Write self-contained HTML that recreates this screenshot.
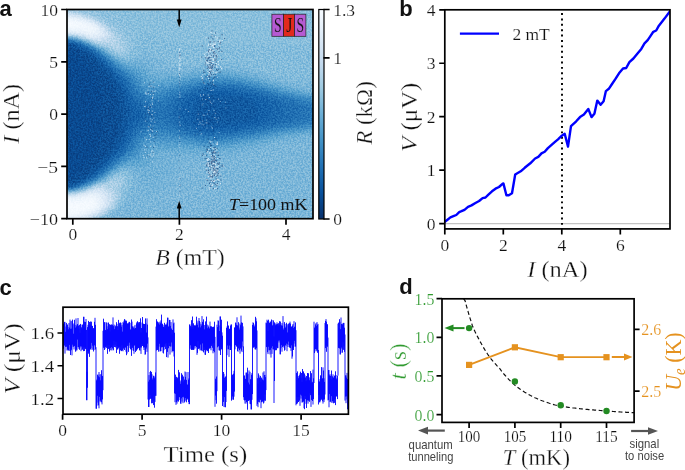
<!DOCTYPE html><html><head><meta charset="utf-8"><style>html,body{margin:0;padding:0;background:#fff;}svg{display:block;will-change:transform}</style></head><body><svg width="685" height="470" viewBox="0 0 685 470"><defs><clipPath id="ca"><rect x="67" y="9.5" width="246" height="209.2"/></clipPath><filter id="bl" x="0" y="0" width="1" height="1" color-interpolation-filters="sRGB"><feGaussianBlur stdDeviation="1.6"/></filter><filter id="nb" x="0" y="0" width="1" height="1" color-interpolation-filters="sRGB"><feGaussianBlur in="SourceGraphic" stdDeviation="1.6" result="b"/><feTurbulence type="fractalNoise" baseFrequency="0.6" numOctaves="2" seed="3" result="t"/><feColorMatrix in="t" type="matrix" values="0 0 0 0 0  0 0 0 0 0  0 0 0 0 0  2.6 0 0 0 -0.8" result="m"/><feComposite in="b" in2="m" operator="in"/></filter><linearGradient id="cb" x1="0" y1="1" x2="0" y2="0"><stop offset="0" stop-color="#08306b"/><stop offset="0.125" stop-color="#08519c"/><stop offset="0.25" stop-color="#2171b5"/><stop offset="0.375" stop-color="#4292c6"/><stop offset="0.5" stop-color="#6baed6"/><stop offset="0.625" stop-color="#9ecae1"/><stop offset="0.75" stop-color="#c6dbef"/><stop offset="0.875" stop-color="#deebf7"/><stop offset="1" stop-color="#f7fbff"/></linearGradient></defs><g clip-path="url(#ca)"><g filter="url(#bl)"><path fill="#083d7f" d="M66 44.5h9v3.4h-9zM66 47.5h15v3.4h-15zM66 50.5h18v3.4h-18zM66 53.5h21v3.4h-21zM66 56.5h27v3.4h-27zM66 59.5h30v3.4h-30zM66 62.5h30v3.4h-30zM66 65.5h33v3.4h-33zM66 68.5h36v3.4h-36zM66 71.5h39v3.4h-39zM66 74.5h42v3.4h-42zM66 77.5h42v3.4h-42zM66 80.5h45v3.4h-45zM66 83.5h48v3.4h-48zM66 86.5h48v3.4h-48zM66 89.5h48v3.4h-48zM66 92.5h51v3.4h-51zM66 95.5h51v3.4h-51zM66 98.5h51v3.4h-51zM66 101.5h51v3.4h-51zM66 104.5h51v3.4h-51zM66 107.5h51v3.4h-51zM66 110.5h51v3.4h-51zM66 113.5h51v3.4h-51zM66 116.5h51v3.4h-51zM66 119.5h51v3.4h-51zM66 122.5h51v3.4h-51zM66 125.5h51v3.4h-51zM66 128.5h51v3.4h-51zM66 131.5h51v3.4h-51zM66 134.5h51v3.4h-51zM66 137.5h48v3.4h-48zM66 140.5h48v3.4h-48zM66 143.5h45v3.4h-45zM66 146.5h45v3.4h-45zM66 149.5h42v3.4h-42zM66 152.5h39v3.4h-39zM66 155.5h36v3.4h-36zM66 158.5h36v3.4h-36zM66 161.5h33v3.4h-33zM66 164.5h30v3.4h-30zM66 167.5h27v3.4h-27zM66 170.5h24v3.4h-24zM66 173.5h21v3.4h-21zM66 176.5h15v3.4h-15zM66 179.5h9v3.4h-9zM66 182.5h3v3.4h-3z"/><path fill="#084488" d="M66 41.5h6v3.4h-6zM75 44.5h3v3.4h-3zM81 47.5h3v3.4h-3zM84 50.5h6v3.4h-6zM87 53.5h6v3.4h-6zM93 56.5h3v3.4h-3zM96 59.5h3v3.4h-3zM96 62.5h6v3.4h-6zM99 65.5h6v3.4h-6zM102 68.5h6v3.4h-6zM105 71.5h6v3.4h-6zM108 74.5h3v3.4h-3zM108 77.5h6v3.4h-6zM111 80.5h6v3.4h-6zM114 83.5h3v3.4h-3zM114 86.5h6v3.4h-6zM114 89.5h6v3.4h-6zM117 92.5h6v3.4h-6zM117 95.5h6v3.4h-6zM117 98.5h6v3.4h-6zM117 101.5h6v3.4h-6zM117 104.5h6v3.4h-6zM117 107.5h9v3.4h-9zM117 110.5h9v3.4h-9zM117 113.5h9v3.4h-9zM117 116.5h9v3.4h-9zM117 119.5h9v3.4h-9zM117 122.5h6v3.4h-6zM117 125.5h6v3.4h-6zM117 128.5h6v3.4h-6zM117 131.5h6v3.4h-6zM117 134.5h6v3.4h-6zM114 137.5h6v3.4h-6zM114 140.5h6v3.4h-6zM111 143.5h6v3.4h-6zM111 146.5h6v3.4h-6zM108 149.5h6v3.4h-6zM105 152.5h6v3.4h-6zM102 155.5h6v3.4h-6zM102 158.5h3v3.4h-3zM99 161.5h3v3.4h-3zM96 164.5h3v3.4h-3zM93 167.5h3v3.4h-3zM90 170.5h3v3.4h-3zM87 173.5h3v3.4h-3zM81 176.5h6v3.4h-6zM75 179.5h6v3.4h-6zM69 182.5h6v3.4h-6z"/><path fill="#084a92" d="M72 41.5h3v3.4h-3zM78 44.5h3v3.4h-3zM84 47.5h3v3.4h-3zM90 50.5h3v3.4h-3zM93 53.5h3v3.4h-3zM96 56.5h3v3.4h-3zM99 59.5h3v3.4h-3zM102 62.5h3v3.4h-3zM105 65.5h3v3.4h-3zM108 68.5h3v3.4h-3zM111 71.5h3v3.4h-3zM111 74.5h6v3.4h-6zM114 77.5h3v3.4h-3zM117 80.5h3v3.4h-3zM117 83.5h6v3.4h-6zM120 86.5h3v3.4h-3zM120 89.5h6v3.4h-6zM123 92.5h3v3.4h-3zM123 95.5h3v3.4h-3zM204 95.5h39v3.4h-39zM123 98.5h3v3.4h-3zM198 98.5h54v3.4h-54zM123 101.5h6v3.4h-6zM198 101.5h57v3.4h-57zM123 104.5h6v3.4h-6zM195 104.5h60v3.4h-60zM126 107.5h6v3.4h-6zM195 107.5h63v3.4h-63zM126 110.5h6v3.4h-6zM195 110.5h63v3.4h-63zM126 113.5h6v3.4h-6zM195 113.5h63v3.4h-63zM126 116.5h6v3.4h-6zM195 116.5h60v3.4h-60zM126 119.5h3v3.4h-3zM198 119.5h51v3.4h-51zM123 122.5h6v3.4h-6zM201 122.5h36v3.4h-36zM123 125.5h6v3.4h-6zM123 128.5h3v3.4h-3zM123 131.5h3v3.4h-3zM123 134.5h3v3.4h-3zM120 137.5h3v3.4h-3zM120 140.5h3v3.4h-3zM117 143.5h3v3.4h-3zM117 146.5h3v3.4h-3zM114 149.5h3v3.4h-3zM111 152.5h3v3.4h-3zM108 155.5h3v3.4h-3zM105 158.5h3v3.4h-3zM102 161.5h3v3.4h-3zM99 164.5h3v3.4h-3zM96 167.5h3v3.4h-3zM93 170.5h3v3.4h-3zM90 173.5h3v3.4h-3zM87 176.5h3v3.4h-3zM81 179.5h3v3.4h-3zM75 182.5h3v3.4h-3z"/><path fill="#08519c" d="M75 41.5h3v3.4h-3zM81 44.5h3v3.4h-3zM87 47.5h3v3.4h-3zM99 56.5h3v3.4h-3zM102 59.5h3v3.4h-3zM105 62.5h3v3.4h-3zM108 65.5h3v3.4h-3zM111 68.5h3v3.4h-3zM114 71.5h3v3.4h-3zM117 74.5h3v3.4h-3zM117 77.5h3v3.4h-3zM120 80.5h3v3.4h-3zM123 83.5h3v3.4h-3zM123 86.5h3v3.4h-3zM126 89.5h3v3.4h-3zM207 89.5h24v3.4h-24zM126 92.5h3v3.4h-3zM198 92.5h51v3.4h-51zM126 95.5h3v3.4h-3zM192 95.5h12v3.4h-12zM243 95.5h15v3.4h-15zM126 98.5h6v3.4h-6zM186 98.5h12v3.4h-12zM252 98.5h12v3.4h-12zM129 101.5h3v3.4h-3zM183 101.5h15v3.4h-15zM255 101.5h12v3.4h-12zM129 104.5h6v3.4h-6zM183 104.5h12v3.4h-12zM255 104.5h15v3.4h-15zM132 107.5h6v3.4h-6zM183 107.5h12v3.4h-12zM258 107.5h12v3.4h-12zM132 110.5h9v3.4h-9zM183 110.5h12v3.4h-12zM258 110.5h12v3.4h-12zM132 113.5h9v3.4h-9zM183 113.5h12v3.4h-12zM258 113.5h12v3.4h-12zM132 116.5h6v3.4h-6zM183 116.5h12v3.4h-12zM255 116.5h15v3.4h-15zM129 119.5h9v3.4h-9zM183 119.5h15v3.4h-15zM249 119.5h15v3.4h-15zM129 122.5h6v3.4h-6zM189 122.5h12v3.4h-12zM237 122.5h21v3.4h-21zM129 125.5h3v3.4h-3zM195 125.5h48v3.4h-48zM126 128.5h3v3.4h-3zM204 128.5h12v3.4h-12zM126 131.5h3v3.4h-3zM126 134.5h3v3.4h-3zM123 137.5h3v3.4h-3zM123 140.5h3v3.4h-3zM120 143.5h3v3.4h-3zM120 146.5h3v3.4h-3zM117 149.5h3v3.4h-3zM114 152.5h3v3.4h-3zM111 155.5h3v3.4h-3zM108 158.5h3v3.4h-3zM105 161.5h3v3.4h-3zM102 164.5h3v3.4h-3zM99 167.5h3v3.4h-3zM96 170.5h3v3.4h-3zM93 173.5h3v3.4h-3zM84 179.5h3v3.4h-3zM78 182.5h3v3.4h-3zM66 185.5h6v3.4h-6z"/><path fill="#0d57a1" d="M84 44.5h3v3.4h-3zM93 50.5h3v3.4h-3zM96 53.5h3v3.4h-3zM120 77.5h3v3.4h-3zM123 80.5h3v3.4h-3zM126 86.5h3v3.4h-3zM198 89.5h9v3.4h-9zM231 89.5h15v3.4h-15zM129 92.5h3v3.4h-3zM189 92.5h9v3.4h-9zM249 92.5h9v3.4h-9zM129 95.5h3v3.4h-3zM183 95.5h9v3.4h-9zM258 95.5h9v3.4h-9zM132 98.5h3v3.4h-3zM180 98.5h6v3.4h-6zM264 98.5h12v3.4h-12zM132 101.5h6v3.4h-6zM177 101.5h6v3.4h-6zM267 101.5h12v3.4h-12zM135 104.5h6v3.4h-6zM177 104.5h6v3.4h-6zM270 104.5h12v3.4h-12zM138 107.5h6v3.4h-6zM174 107.5h9v3.4h-9zM270 107.5h12v3.4h-12zM141 110.5h6v3.4h-6zM174 110.5h9v3.4h-9zM270 110.5h12v3.4h-12zM141 113.5h6v3.4h-6zM174 113.5h9v3.4h-9zM270 113.5h12v3.4h-12zM138 116.5h6v3.4h-6zM177 116.5h6v3.4h-6zM270 116.5h12v3.4h-12zM138 119.5h6v3.4h-6zM177 119.5h6v3.4h-6zM264 119.5h12v3.4h-12zM135 122.5h6v3.4h-6zM180 122.5h9v3.4h-9zM258 122.5h12v3.4h-12zM132 125.5h6v3.4h-6zM183 125.5h12v3.4h-12zM243 125.5h15v3.4h-15zM129 128.5h6v3.4h-6zM192 128.5h12v3.4h-12zM216 128.5h24v3.4h-24zM129 131.5h3v3.4h-3zM207 131.5h3v3.4h-3zM129 134.5h3v3.4h-3zM126 137.5h3v3.4h-3zM126 140.5h3v3.4h-3zM123 143.5h3v3.4h-3zM123 146.5h3v3.4h-3zM120 149.5h3v3.4h-3zM117 152.5h3v3.4h-3zM114 155.5h3v3.4h-3zM111 158.5h3v3.4h-3zM108 161.5h3v3.4h-3zM105 164.5h3v3.4h-3zM102 167.5h3v3.4h-3zM99 170.5h3v3.4h-3zM90 176.5h3v3.4h-3zM72 185.5h3v3.4h-3z"/><path fill="#125ea6" d="M66 38.5h3v3.4h-3zM78 41.5h3v3.4h-3zM90 47.5h3v3.4h-3zM99 53.5h3v3.4h-3zM102 56.5h3v3.4h-3zM105 59.5h3v3.4h-3zM108 62.5h3v3.4h-3zM111 65.5h3v3.4h-3zM114 68.5h3v3.4h-3zM117 71.5h3v3.4h-3zM120 74.5h3v3.4h-3zM123 77.5h3v3.4h-3zM126 80.5h3v3.4h-3zM126 83.5h3v3.4h-3zM129 86.5h3v3.4h-3zM198 86.5h45v3.4h-45zM129 89.5h3v3.4h-3zM189 89.5h9v3.4h-9zM246 89.5h9v3.4h-9zM183 92.5h6v3.4h-6zM258 92.5h9v3.4h-9zM132 95.5h3v3.4h-3zM177 95.5h6v3.4h-6zM267 95.5h9v3.4h-9zM135 98.5h6v3.4h-6zM174 98.5h6v3.4h-6zM276 98.5h9v3.4h-9zM138 101.5h6v3.4h-6zM171 101.5h6v3.4h-6zM279 101.5h12v3.4h-12zM141 104.5h9v3.4h-9zM168 104.5h9v3.4h-9zM282 104.5h15v3.4h-15zM144 107.5h9v3.4h-9zM168 107.5h6v3.4h-6zM282 107.5h15v3.4h-15zM147 110.5h9v3.4h-9zM168 110.5h6v3.4h-6zM282 110.5h15v3.4h-15zM147 113.5h9v3.4h-9zM168 113.5h6v3.4h-6zM282 113.5h15v3.4h-15zM144 116.5h9v3.4h-9zM168 116.5h9v3.4h-9zM282 116.5h15v3.4h-15zM144 119.5h6v3.4h-6zM171 119.5h6v3.4h-6zM276 119.5h15v3.4h-15zM141 122.5h6v3.4h-6zM174 122.5h6v3.4h-6zM270 122.5h9v3.4h-9zM138 125.5h3v3.4h-3zM177 125.5h6v3.4h-6zM258 125.5h9v3.4h-9zM135 128.5h3v3.4h-3zM183 128.5h9v3.4h-9zM240 128.5h12v3.4h-12zM132 131.5h3v3.4h-3zM195 131.5h12v3.4h-12zM210 131.5h24v3.4h-24zM129 137.5h3v3.4h-3zM129 140.5h3v3.4h-3zM126 143.5h3v3.4h-3zM123 149.5h3v3.4h-3zM120 152.5h3v3.4h-3zM117 155.5h3v3.4h-3zM96 173.5h3v3.4h-3zM87 179.5h3v3.4h-3zM81 182.5h3v3.4h-3z"/><path fill="#1764ab" d="M69 38.5h3v3.4h-3zM96 50.5h3v3.4h-3zM117 68.5h3v3.4h-3zM120 71.5h3v3.4h-3zM123 74.5h3v3.4h-3zM126 77.5h3v3.4h-3zM129 83.5h3v3.4h-3zM204 83.5h30v3.4h-30zM192 86.5h6v3.4h-6zM243 86.5h6v3.4h-6zM132 89.5h3v3.4h-3zM183 89.5h6v3.4h-6zM255 89.5h6v3.4h-6zM132 92.5h6v3.4h-6zM177 92.5h6v3.4h-6zM267 92.5h6v3.4h-6zM135 95.5h6v3.4h-6zM171 95.5h6v3.4h-6zM276 95.5h6v3.4h-6zM141 98.5h6v3.4h-6zM168 98.5h6v3.4h-6zM285 98.5h9v3.4h-9zM144 101.5h27v3.4h-27zM291 101.5h12v3.4h-12zM150 104.5h18v3.4h-18zM297 104.5h12v3.4h-12zM153 107.5h15v3.4h-15zM297 107.5h15v3.4h-15zM156 110.5h12v3.4h-12zM297 110.5h15v3.4h-15zM156 113.5h12v3.4h-12zM297 113.5h15v3.4h-15zM153 116.5h15v3.4h-15zM297 116.5h15v3.4h-15zM150 119.5h21v3.4h-21zM291 119.5h15v3.4h-15zM147 122.5h12v3.4h-12zM165 122.5h9v3.4h-9zM279 122.5h12v3.4h-12zM141 125.5h6v3.4h-6zM171 125.5h6v3.4h-6zM267 125.5h9v3.4h-9zM138 128.5h6v3.4h-6zM177 128.5h6v3.4h-6zM252 128.5h9v3.4h-9zM135 131.5h3v3.4h-3zM186 131.5h9v3.4h-9zM234 131.5h9v3.4h-9zM132 134.5h3v3.4h-3zM201 134.5h21v3.4h-21zM132 137.5h3v3.4h-3zM129 143.5h3v3.4h-3zM126 146.5h3v3.4h-3zM114 158.5h3v3.4h-3zM111 161.5h3v3.4h-3zM108 164.5h3v3.4h-3zM105 167.5h3v3.4h-3zM93 176.5h3v3.4h-3zM75 185.5h3v3.4h-3z"/><path fill="#1c6bb0" d="M72 38.5h3v3.4h-3zM81 41.5h3v3.4h-3zM87 44.5h3v3.4h-3zM93 47.5h3v3.4h-3zM105 56.5h3v3.4h-3zM108 59.5h3v3.4h-3zM111 62.5h3v3.4h-3zM114 65.5h3v3.4h-3zM126 74.5h3v3.4h-3zM129 80.5h3v3.4h-3zM132 83.5h3v3.4h-3zM198 83.5h6v3.4h-6zM234 83.5h9v3.4h-9zM132 86.5h3v3.4h-3zM186 86.5h6v3.4h-6zM249 86.5h6v3.4h-6zM135 89.5h3v3.4h-3zM177 89.5h6v3.4h-6zM261 89.5h6v3.4h-6zM138 92.5h3v3.4h-3zM171 92.5h6v3.4h-6zM273 92.5h3v3.4h-3zM141 95.5h6v3.4h-6zM165 95.5h6v3.4h-6zM282 95.5h6v3.4h-6zM147 98.5h21v3.4h-21zM294 98.5h6v3.4h-6zM303 101.5h9v3.4h-9zM309 104.5h6v3.4h-6zM312 107.5h3v3.4h-3zM312 110.5h3v3.4h-3zM312 113.5h3v3.4h-3zM312 116.5h3v3.4h-3zM306 119.5h9v3.4h-9zM159 122.5h6v3.4h-6zM291 122.5h12v3.4h-12zM147 125.5h24v3.4h-24zM276 125.5h6v3.4h-6zM144 128.5h6v3.4h-6zM168 128.5h9v3.4h-9zM261 128.5h9v3.4h-9zM138 131.5h6v3.4h-6zM177 131.5h9v3.4h-9zM243 131.5h12v3.4h-12zM135 134.5h3v3.4h-3zM192 134.5h9v3.4h-9zM222 134.5h12v3.4h-12zM132 140.5h3v3.4h-3zM132 143.5h3v3.4h-3zM129 146.5h3v3.4h-3zM126 149.5h3v3.4h-3zM123 152.5h3v3.4h-3zM120 155.5h3v3.4h-3zM117 158.5h3v3.4h-3zM102 170.5h3v3.4h-3zM99 173.5h3v3.4h-3zM90 179.5h3v3.4h-3zM84 182.5h3v3.4h-3z"/><path fill="#2171b5" d="M102 53.5h3v3.4h-3zM117 65.5h3v3.4h-3zM120 68.5h3v3.4h-3zM123 71.5h3v3.4h-3zM129 77.5h3v3.4h-3zM132 80.5h3v3.4h-3zM204 80.5h27v3.4h-27zM192 83.5h6v3.4h-6zM243 83.5h6v3.4h-6zM135 86.5h3v3.4h-3zM180 86.5h6v3.4h-6zM255 86.5h6v3.4h-6zM138 89.5h3v3.4h-3zM171 89.5h6v3.4h-6zM267 89.5h6v3.4h-6zM141 92.5h6v3.4h-6zM165 92.5h6v3.4h-6zM276 92.5h6v3.4h-6zM147 95.5h18v3.4h-18zM288 95.5h6v3.4h-6zM300 98.5h9v3.4h-9zM312 101.5h3v3.4h-3zM303 122.5h12v3.4h-12zM282 125.5h12v3.4h-12zM150 128.5h18v3.4h-18zM270 128.5h6v3.4h-6zM144 131.5h6v3.4h-6zM171 131.5h6v3.4h-6zM255 131.5h6v3.4h-6zM138 134.5h6v3.4h-6zM183 134.5h9v3.4h-9zM234 134.5h9v3.4h-9zM135 137.5h3v3.4h-3zM198 137.5h24v3.4h-24zM135 140.5h3v3.4h-3zM132 146.5h3v3.4h-3zM129 149.5h3v3.4h-3zM126 152.5h3v3.4h-3zM123 155.5h3v3.4h-3zM114 161.5h3v3.4h-3zM111 164.5h3v3.4h-3zM96 176.5h3v3.4h-3zM78 185.5h3v3.4h-3z"/><path fill="#2878b8" d="M75 38.5h3v3.4h-3zM99 50.5h3v3.4h-3zM111 59.5h3v3.4h-3zM114 62.5h3v3.4h-3zM126 71.5h3v3.4h-3zM129 74.5h3v3.4h-3zM132 77.5h3v3.4h-3zM135 80.5h3v3.4h-3zM198 80.5h6v3.4h-6zM231 80.5h9v3.4h-9zM135 83.5h3v3.4h-3zM186 83.5h6v3.4h-6zM249 83.5h6v3.4h-6zM138 86.5h3v3.4h-3zM174 86.5h6v3.4h-6zM261 86.5h3v3.4h-3zM141 89.5h3v3.4h-3zM165 89.5h6v3.4h-6zM273 89.5h3v3.4h-3zM147 92.5h18v3.4h-18zM282 92.5h6v3.4h-6zM294 95.5h6v3.4h-6zM309 98.5h6v3.4h-6zM294 125.5h9v3.4h-9zM276 128.5h6v3.4h-6zM150 131.5h21v3.4h-21zM261 131.5h6v3.4h-6zM144 134.5h3v3.4h-3zM171 134.5h12v3.4h-12zM243 134.5h9v3.4h-9zM138 137.5h6v3.4h-6zM189 137.5h9v3.4h-9zM222 137.5h12v3.4h-12zM138 140.5h3v3.4h-3zM135 143.5h3v3.4h-3zM132 149.5h3v3.4h-3zM129 152.5h3v3.4h-3zM120 158.5h3v3.4h-3zM108 167.5h3v3.4h-3zM105 170.5h3v3.4h-3z"/><path fill="#2e7ebc" d="M84 41.5h3v3.4h-3zM90 44.5h3v3.4h-3zM96 47.5h3v3.4h-3zM108 56.5h3v3.4h-3zM120 65.5h3v3.4h-3zM123 68.5h3v3.4h-3zM129 71.5h3v3.4h-3zM132 74.5h3v3.4h-3zM135 77.5h3v3.4h-3zM204 77.5h24v3.4h-24zM189 80.5h9v3.4h-9zM240 80.5h6v3.4h-6zM138 83.5h3v3.4h-3zM180 83.5h6v3.4h-6zM255 83.5h3v3.4h-3zM141 86.5h3v3.4h-3zM168 86.5h6v3.4h-6zM264 86.5h6v3.4h-6zM144 89.5h21v3.4h-21zM276 89.5h3v3.4h-3zM288 92.5h6v3.4h-6zM300 95.5h6v3.4h-6zM303 125.5h9v3.4h-9zM282 128.5h6v3.4h-6zM267 131.5h6v3.4h-6zM147 134.5h24v3.4h-24zM252 134.5h6v3.4h-6zM144 137.5h3v3.4h-3zM177 137.5h12v3.4h-12zM234 137.5h6v3.4h-6zM198 140.5h24v3.4h-24zM138 143.5h3v3.4h-3zM135 146.5h3v3.4h-3zM135 149.5h3v3.4h-3zM132 152.5h3v3.4h-3zM126 155.5h3v3.4h-3zM123 158.5h3v3.4h-3zM117 161.5h3v3.4h-3zM114 164.5h3v3.4h-3zM102 173.5h3v3.4h-3zM93 179.5h3v3.4h-3zM87 182.5h3v3.4h-3zM66 188.5h3v3.4h-3z"/><path fill="#3585bf" d="M102 50.5h3v3.4h-3zM105 53.5h3v3.4h-3zM117 62.5h3v3.4h-3zM126 68.5h3v3.4h-3zM132 71.5h3v3.4h-3zM135 74.5h3v3.4h-3zM138 77.5h3v3.4h-3zM198 77.5h6v3.4h-6zM228 77.5h9v3.4h-9zM138 80.5h3v3.4h-3zM183 80.5h6v3.4h-6zM246 80.5h6v3.4h-6zM141 83.5h3v3.4h-3zM171 83.5h9v3.4h-9zM258 83.5h6v3.4h-6zM144 86.5h24v3.4h-24zM270 86.5h3v3.4h-3zM279 89.5h6v3.4h-6zM294 92.5h3v3.4h-3zM306 95.5h6v3.4h-6zM312 125.5h3v3.4h-3zM288 128.5h9v3.4h-9zM273 131.5h6v3.4h-6zM258 134.5h6v3.4h-6zM147 137.5h30v3.4h-30zM240 137.5h9v3.4h-9zM141 140.5h6v3.4h-6zM186 140.5h12v3.4h-12zM222 140.5h12v3.4h-12zM141 143.5h3v3.4h-3zM138 146.5h3v3.4h-3zM138 149.5h3v3.4h-3zM135 152.5h3v3.4h-3zM129 155.5h3v3.4h-3zM120 161.5h3v3.4h-3zM111 167.5h3v3.4h-3zM99 176.5h3v3.4h-3zM81 185.5h3v3.4h-3zM69 188.5h3v3.4h-3z"/><path fill="#3b8bc3" d="M78 38.5h3v3.4h-3zM111 56.5h3v3.4h-3zM114 59.5h3v3.4h-3zM123 65.5h3v3.4h-3zM129 68.5h3v3.4h-3zM135 71.5h3v3.4h-3zM138 74.5h3v3.4h-3zM204 74.5h15v3.4h-15zM189 77.5h9v3.4h-9zM237 77.5h6v3.4h-6zM141 80.5h3v3.4h-3zM177 80.5h6v3.4h-6zM252 80.5h6v3.4h-6zM144 83.5h9v3.4h-9zM159 83.5h12v3.4h-12zM264 83.5h3v3.4h-3zM273 86.5h6v3.4h-6zM285 89.5h3v3.4h-3zM297 92.5h6v3.4h-6zM312 95.5h3v3.4h-3zM297 128.5h9v3.4h-9zM279 131.5h6v3.4h-6zM264 134.5h6v3.4h-6zM249 137.5h9v3.4h-9zM147 140.5h39v3.4h-39zM234 140.5h6v3.4h-6zM144 143.5h3v3.4h-3zM198 143.5h24v3.4h-24zM141 146.5h3v3.4h-3zM141 149.5h3v3.4h-3zM138 152.5h3v3.4h-3zM132 155.5h6v3.4h-6zM126 158.5h6v3.4h-6zM117 164.5h3v3.4h-3zM108 170.5h3v3.4h-3zM105 173.5h3v3.4h-3zM72 188.5h3v3.4h-3z"/><path fill="#4292c6" d="M87 41.5h3v3.4h-3zM93 44.5h3v3.4h-3zM99 47.5h3v3.4h-3zM108 53.5h3v3.4h-3zM120 62.5h3v3.4h-3zM126 65.5h3v3.4h-3zM132 68.5h6v3.4h-6zM138 71.5h3v3.4h-3zM141 74.5h3v3.4h-3zM198 74.5h6v3.4h-6zM219 74.5h18v3.4h-18zM141 77.5h6v3.4h-6zM180 77.5h9v3.4h-9zM243 77.5h6v3.4h-6zM144 80.5h6v3.4h-6zM165 80.5h12v3.4h-12zM258 80.5h3v3.4h-3zM153 83.5h6v3.4h-6zM267 83.5h3v3.4h-3zM279 86.5h3v3.4h-3zM288 89.5h6v3.4h-6zM303 92.5h3v3.4h-3zM306 128.5h6v3.4h-6zM285 131.5h9v3.4h-9zM270 134.5h6v3.4h-6zM258 137.5h6v3.4h-6zM240 140.5h9v3.4h-9zM147 143.5h15v3.4h-15zM168 143.5h30v3.4h-30zM222 143.5h12v3.4h-12zM144 146.5h6v3.4h-6zM207 146.5h3v3.4h-3zM144 149.5h3v3.4h-3zM141 152.5h6v3.4h-6zM138 155.5h6v3.4h-6zM132 158.5h6v3.4h-6zM123 161.5h6v3.4h-6zM114 167.5h3v3.4h-3zM102 176.5h3v3.4h-3zM96 179.5h3v3.4h-3zM90 182.5h3v3.4h-3z"/><path fill="#4a98c9" d="M105 50.5h3v3.4h-3zM117 59.5h3v3.4h-3zM123 62.5h3v3.4h-3zM129 65.5h6v3.4h-6zM138 68.5h6v3.4h-6zM141 71.5h6v3.4h-6zM204 71.5h18v3.4h-18zM144 74.5h3v3.4h-3zM189 74.5h9v3.4h-9zM237 74.5h6v3.4h-6zM147 77.5h6v3.4h-6zM168 77.5h12v3.4h-12zM249 77.5h6v3.4h-6zM150 80.5h15v3.4h-15zM261 80.5h6v3.4h-6zM270 83.5h6v3.4h-6zM282 86.5h6v3.4h-6zM294 89.5h6v3.4h-6zM306 92.5h6v3.4h-6zM312 128.5h3v3.4h-3zM294 131.5h9v3.4h-9zM276 134.5h6v3.4h-6zM264 137.5h6v3.4h-6zM249 140.5h9v3.4h-9zM162 143.5h6v3.4h-6zM234 143.5h9v3.4h-9zM150 146.5h24v3.4h-24zM189 146.5h18v3.4h-18zM210 146.5h18v3.4h-18zM147 149.5h6v3.4h-6zM147 152.5h3v3.4h-3zM144 155.5h6v3.4h-6zM138 158.5h9v3.4h-9zM129 161.5h12v3.4h-12zM120 164.5h3v3.4h-3zM111 170.5h3v3.4h-3zM84 185.5h3v3.4h-3zM75 188.5h3v3.4h-3z"/><path fill="#529dcc" d="M66 35.5h6v3.4h-6zM81 38.5h3v3.4h-3zM114 56.5h3v3.4h-3zM120 59.5h3v3.4h-3zM126 62.5h9v3.4h-9zM135 65.5h9v3.4h-9zM144 68.5h3v3.4h-3zM147 71.5h3v3.4h-3zM192 71.5h12v3.4h-12zM222 71.5h15v3.4h-15zM147 74.5h9v3.4h-9zM168 74.5h21v3.4h-21zM243 74.5h9v3.4h-9zM153 77.5h15v3.4h-15zM255 77.5h6v3.4h-6zM267 80.5h3v3.4h-3zM276 83.5h6v3.4h-6zM288 86.5h6v3.4h-6zM300 89.5h6v3.4h-6zM312 92.5h3v3.4h-3zM303 131.5h9v3.4h-9zM282 134.5h12v3.4h-12zM270 137.5h9v3.4h-9zM258 140.5h9v3.4h-9zM243 143.5h12v3.4h-12zM174 146.5h15v3.4h-15zM228 146.5h12v3.4h-12zM153 149.5h30v3.4h-30zM189 149.5h36v3.4h-36zM150 152.5h9v3.4h-9zM150 155.5h6v3.4h-6zM147 158.5h6v3.4h-6zM141 161.5h12v3.4h-12zM123 164.5h24v3.4h-24zM117 167.5h3v3.4h-3zM108 173.5h3v3.4h-3z"/><path fill="#5ba3d0" d="M96 44.5h3v3.4h-3zM102 47.5h3v3.4h-3zM111 53.5h3v3.4h-3zM117 56.5h3v3.4h-3zM123 59.5h3v3.4h-3zM138 59.5h6v3.4h-6zM135 62.5h15v3.4h-15zM144 65.5h9v3.4h-9zM147 68.5h9v3.4h-9zM198 68.5h36v3.4h-36zM150 71.5h42v3.4h-42zM237 71.5h12v3.4h-12zM156 74.5h12v3.4h-12zM252 74.5h6v3.4h-6zM261 77.5h6v3.4h-6zM270 80.5h9v3.4h-9zM282 83.5h6v3.4h-6zM294 86.5h6v3.4h-6zM306 89.5h6v3.4h-6zM312 131.5h3v3.4h-3zM294 134.5h18v3.4h-18zM279 137.5h18v3.4h-18zM267 140.5h15v3.4h-15zM255 143.5h15v3.4h-15zM240 146.5h21v3.4h-21zM183 149.5h6v3.4h-6zM225 149.5h21v3.4h-21zM159 152.5h75v3.4h-75zM156 155.5h30v3.4h-30zM198 155.5h21v3.4h-21zM153 158.5h18v3.4h-18zM153 161.5h18v3.4h-18zM147 164.5h21v3.4h-21zM120 167.5h3v3.4h-3zM132 167.5h36v3.4h-36zM114 170.5h3v3.4h-3zM135 170.5h30v3.4h-30zM138 173.5h24v3.4h-24zM105 176.5h3v3.4h-3zM141 176.5h18v3.4h-18zM99 179.5h3v3.4h-3zM144 179.5h9v3.4h-9zM93 182.5h3v3.4h-3z"/><path fill="#63a8d3" d="M72 35.5h3v3.4h-3zM90 41.5h3v3.4h-3zM108 50.5h3v3.4h-3zM141 53.5h9v3.4h-9zM135 56.5h21v3.4h-21zM126 59.5h12v3.4h-12zM144 59.5h18v3.4h-18zM150 62.5h15v3.4h-15zM153 65.5h87v3.4h-87zM156 68.5h42v3.4h-42zM234 68.5h18v3.4h-18zM249 71.5h12v3.4h-12zM258 74.5h12v3.4h-12zM267 77.5h15v3.4h-15zM279 80.5h15v3.4h-15zM288 83.5h27v3.4h-27zM300 86.5h15v3.4h-15zM312 89.5h3v3.4h-3zM312 134.5h3v3.4h-3zM297 137.5h18v3.4h-18zM282 140.5h33v3.4h-33zM270 143.5h45v3.4h-45zM261 146.5h54v3.4h-54zM246 149.5h69v3.4h-69zM234 152.5h81v3.4h-81zM186 155.5h12v3.4h-12zM219 155.5h96v3.4h-96zM171 158.5h144v3.4h-144zM171 161.5h144v3.4h-144zM168 164.5h147v3.4h-147zM123 167.5h9v3.4h-9zM168 167.5h147v3.4h-147zM117 170.5h3v3.4h-3zM129 170.5h6v3.4h-6zM165 170.5h150v3.4h-150zM111 173.5h3v3.4h-3zM132 173.5h6v3.4h-6zM162 173.5h153v3.4h-153zM132 176.5h9v3.4h-9zM159 176.5h156v3.4h-156zM102 179.5h3v3.4h-3zM132 179.5h12v3.4h-12zM153 179.5h162v3.4h-162zM132 182.5h183v3.4h-183zM87 185.5h3v3.4h-3zM132 185.5h183v3.4h-183zM78 188.5h3v3.4h-3zM132 188.5h183v3.4h-183zM129 191.5h186v3.4h-186zM129 194.5h186v3.4h-186zM126 197.5h189v3.4h-189zM126 200.5h189v3.4h-189zM123 203.5h192v3.4h-192zM120 206.5h195v3.4h-195zM117 209.5h198v3.4h-198zM111 212.5h204v3.4h-204zM108 215.5h207v3.4h-207zM102 218.5h213v3.4h-213z"/><path fill="#6baed6" d="M141 32.5h12v3.4h-12zM141 35.5h18v3.4h-18zM84 38.5h3v3.4h-3zM138 38.5h27v3.4h-27zM138 41.5h48v3.4h-48zM138 44.5h177v3.4h-177zM105 47.5h3v3.4h-3zM135 47.5h180v3.4h-180zM135 50.5h180v3.4h-180zM114 53.5h3v3.4h-3zM132 53.5h9v3.4h-9zM150 53.5h165v3.4h-165zM120 56.5h15v3.4h-15zM156 56.5h159v3.4h-159zM162 59.5h153v3.4h-153zM165 62.5h150v3.4h-150zM240 65.5h75v3.4h-75zM252 68.5h63v3.4h-63zM261 71.5h54v3.4h-54zM270 74.5h45v3.4h-45zM282 77.5h33v3.4h-33zM294 80.5h21v3.4h-21zM120 170.5h9v3.4h-9zM129 173.5h3v3.4h-3zM108 176.5h3v3.4h-3zM129 176.5h3v3.4h-3zM129 179.5h3v3.4h-3zM129 182.5h3v3.4h-3zM126 185.5h6v3.4h-6zM126 188.5h6v3.4h-6zM126 191.5h3v3.4h-3zM126 194.5h3v3.4h-3zM123 197.5h3v3.4h-3zM123 200.5h3v3.4h-3zM120 203.5h3v3.4h-3zM117 206.5h3v3.4h-3zM114 209.5h3v3.4h-3zM108 212.5h3v3.4h-3zM105 215.5h3v3.4h-3zM99 218.5h3v3.4h-3z"/><path fill="#75b4d8" d="M90 8.5h225v3.4h-225zM96 11.5h219v3.4h-219zM102 14.5h213v3.4h-213zM108 17.5h207v3.4h-207zM111 20.5h204v3.4h-204zM117 23.5h198v3.4h-198zM120 26.5h195v3.4h-195zM123 29.5h192v3.4h-192zM126 32.5h15v3.4h-15zM153 32.5h162v3.4h-162zM75 35.5h3v3.4h-3zM129 35.5h12v3.4h-12zM159 35.5h156v3.4h-156zM129 38.5h9v3.4h-9zM165 38.5h150v3.4h-150zM129 41.5h9v3.4h-9zM186 41.5h129v3.4h-129zM99 44.5h3v3.4h-3zM132 44.5h6v3.4h-6zM129 47.5h6v3.4h-6zM111 50.5h3v3.4h-3zM129 50.5h6v3.4h-6zM117 53.5h3v3.4h-3zM126 53.5h6v3.4h-6zM114 173.5h3v3.4h-3zM123 173.5h6v3.4h-6zM126 176.5h3v3.4h-3zM105 179.5h3v3.4h-3zM126 179.5h3v3.4h-3zM96 182.5h3v3.4h-3zM126 182.5h3v3.4h-3zM123 185.5h3v3.4h-3zM123 188.5h3v3.4h-3zM123 191.5h3v3.4h-3zM123 194.5h3v3.4h-3zM120 197.5h3v3.4h-3zM120 200.5h3v3.4h-3zM117 203.5h3v3.4h-3zM114 206.5h3v3.4h-3zM111 209.5h3v3.4h-3zM102 215.5h3v3.4h-3zM96 218.5h3v3.4h-3z"/><path fill="#7fb9da" d="M69 8.5h21v3.4h-21zM84 11.5h12v3.4h-12zM93 14.5h9v3.4h-9zM99 17.5h9v3.4h-9zM105 20.5h6v3.4h-6zM108 23.5h9v3.4h-9zM114 26.5h6v3.4h-6zM117 29.5h6v3.4h-6zM120 32.5h6v3.4h-6zM123 35.5h6v3.4h-6zM126 38.5h3v3.4h-3zM93 41.5h3v3.4h-3zM126 41.5h3v3.4h-3zM102 44.5h3v3.4h-3zM126 44.5h6v3.4h-6zM108 47.5h3v3.4h-3zM126 47.5h3v3.4h-3zM114 50.5h3v3.4h-3zM126 50.5h3v3.4h-3zM120 53.5h6v3.4h-6zM117 173.5h6v3.4h-6zM111 176.5h3v3.4h-3zM123 176.5h3v3.4h-3zM123 179.5h3v3.4h-3zM123 182.5h3v3.4h-3zM120 185.5h3v3.4h-3zM81 188.5h3v3.4h-3zM120 188.5h3v3.4h-3zM120 191.5h3v3.4h-3zM120 194.5h3v3.4h-3zM117 200.5h3v3.4h-3zM105 212.5h3v3.4h-3zM99 215.5h3v3.4h-3zM93 218.5h3v3.4h-3z"/><path fill="#8abfdd" d="M66 8.5h3v3.4h-3zM81 11.5h3v3.4h-3zM90 14.5h3v3.4h-3zM96 17.5h3v3.4h-3zM102 20.5h3v3.4h-3zM111 26.5h3v3.4h-3zM114 29.5h3v3.4h-3zM117 32.5h3v3.4h-3zM120 35.5h3v3.4h-3zM120 38.5h6v3.4h-6zM123 41.5h3v3.4h-3zM105 44.5h3v3.4h-3zM123 44.5h3v3.4h-3zM111 47.5h3v3.4h-3zM123 47.5h3v3.4h-3zM117 50.5h9v3.4h-9zM114 176.5h9v3.4h-9zM108 179.5h3v3.4h-3zM120 179.5h3v3.4h-3zM99 182.5h3v3.4h-3zM120 182.5h3v3.4h-3zM90 185.5h3v3.4h-3zM117 185.5h3v3.4h-3zM117 188.5h3v3.4h-3zM66 191.5h3v3.4h-3zM117 191.5h3v3.4h-3zM117 197.5h3v3.4h-3zM114 203.5h3v3.4h-3zM111 206.5h3v3.4h-3zM108 209.5h3v3.4h-3z"/><path fill="#94c4df" d="M78 11.5h3v3.4h-3zM105 23.5h3v3.4h-3zM108 26.5h3v3.4h-3zM111 29.5h3v3.4h-3zM114 32.5h3v3.4h-3zM78 35.5h3v3.4h-3zM117 35.5h3v3.4h-3zM87 38.5h3v3.4h-3zM117 38.5h3v3.4h-3zM96 41.5h3v3.4h-3zM120 41.5h3v3.4h-3zM108 44.5h3v3.4h-3zM120 44.5h3v3.4h-3zM114 47.5h9v3.4h-9zM111 179.5h9v3.4h-9zM102 182.5h9v3.4h-9zM114 182.5h6v3.4h-6zM114 185.5h3v3.4h-3zM84 188.5h3v3.4h-3zM114 188.5h3v3.4h-3zM69 191.5h3v3.4h-3zM117 194.5h3v3.4h-3zM114 200.5h3v3.4h-3zM102 212.5h3v3.4h-3zM96 215.5h3v3.4h-3zM90 218.5h3v3.4h-3z"/><path fill="#9ecae1" d="M75 11.5h3v3.4h-3zM87 14.5h3v3.4h-3zM93 17.5h3v3.4h-3zM99 20.5h3v3.4h-3zM114 35.5h3v3.4h-3zM114 38.5h3v3.4h-3zM99 41.5h3v3.4h-3zM105 41.5h3v3.4h-3zM114 41.5h6v3.4h-6zM111 44.5h9v3.4h-9zM111 182.5h3v3.4h-3zM93 185.5h3v3.4h-3zM108 185.5h6v3.4h-6zM111 188.5h3v3.4h-3zM72 191.5h3v3.4h-3zM114 191.5h3v3.4h-3zM114 194.5h3v3.4h-3zM114 197.5h3v3.4h-3zM111 203.5h3v3.4h-3zM108 206.5h3v3.4h-3zM105 209.5h3v3.4h-3zM87 218.5h3v3.4h-3z"/><path fill="#a6cde4" d="M72 11.5h3v3.4h-3zM84 14.5h3v3.4h-3zM102 23.5h3v3.4h-3zM108 29.5h3v3.4h-3zM111 32.5h3v3.4h-3zM81 35.5h3v3.4h-3zM111 35.5h3v3.4h-3zM90 38.5h3v3.4h-3zM108 38.5h6v3.4h-6zM102 41.5h3v3.4h-3zM108 41.5h6v3.4h-6zM96 185.5h3v3.4h-3zM105 185.5h3v3.4h-3zM108 188.5h3v3.4h-3zM75 191.5h3v3.4h-3zM111 191.5h3v3.4h-3zM99 212.5h3v3.4h-3zM93 215.5h3v3.4h-3z"/><path fill="#aed1e7" d="M66 11.5h6v3.4h-6zM105 26.5h3v3.4h-3zM105 38.5h3v3.4h-3zM99 185.5h6v3.4h-6zM87 188.5h3v3.4h-3zM111 194.5h3v3.4h-3zM111 197.5h3v3.4h-3zM111 200.5h3v3.4h-3zM84 218.5h3v3.4h-3z"/><path fill="#b6d4e9" d="M81 14.5h3v3.4h-3zM90 17.5h3v3.4h-3zM96 20.5h3v3.4h-3zM66 32.5h3v3.4h-3zM108 32.5h3v3.4h-3zM84 35.5h3v3.4h-3zM108 35.5h3v3.4h-3zM93 38.5h3v3.4h-3zM102 38.5h3v3.4h-3zM105 188.5h3v3.4h-3zM78 191.5h3v3.4h-3zM108 191.5h3v3.4h-3zM108 203.5h3v3.4h-3zM105 206.5h3v3.4h-3zM102 209.5h3v3.4h-3zM90 215.5h3v3.4h-3zM81 218.5h3v3.4h-3z"/><path fill="#bed8ec" d="M78 14.5h3v3.4h-3zM99 23.5h3v3.4h-3zM105 29.5h3v3.4h-3zM69 32.5h6v3.4h-6zM105 35.5h3v3.4h-3zM96 38.5h6v3.4h-6zM90 188.5h3v3.4h-3zM102 188.5h3v3.4h-3zM81 191.5h3v3.4h-3zM105 191.5h3v3.4h-3zM108 194.5h3v3.4h-3zM108 197.5h3v3.4h-3zM108 200.5h3v3.4h-3zM96 212.5h3v3.4h-3zM78 218.5h3v3.4h-3z"/><path fill="#c6dbef" d="M87 17.5h3v3.4h-3zM102 26.5h3v3.4h-3zM75 32.5h3v3.4h-3zM105 32.5h3v3.4h-3zM87 35.5h3v3.4h-3zM102 35.5h3v3.4h-3zM93 188.5h3v3.4h-3zM99 188.5h3v3.4h-3zM105 203.5h3v3.4h-3zM99 209.5h3v3.4h-3zM87 215.5h3v3.4h-3zM75 218.5h3v3.4h-3z"/><path fill="#cbdef1" d="M75 14.5h3v3.4h-3zM93 20.5h3v3.4h-3zM96 188.5h3v3.4h-3zM84 191.5h3v3.4h-3zM102 191.5h3v3.4h-3zM105 194.5h3v3.4h-3zM105 197.5h3v3.4h-3zM102 206.5h3v3.4h-3zM93 212.5h3v3.4h-3zM72 218.5h3v3.4h-3z"/><path fill="#d0e1f2" d="M72 14.5h3v3.4h-3zM84 17.5h3v3.4h-3zM102 29.5h3v3.4h-3zM78 32.5h3v3.4h-3zM102 32.5h3v3.4h-3zM90 35.5h3v3.4h-3zM96 35.5h6v3.4h-6zM69 194.5h3v3.4h-3zM102 194.5h3v3.4h-3zM105 200.5h3v3.4h-3zM84 215.5h3v3.4h-3zM66 218.5h6v3.4h-6z"/><path fill="#d4e5f4" d="M66 14.5h6v3.4h-6zM90 20.5h3v3.4h-3zM96 23.5h3v3.4h-3zM99 26.5h3v3.4h-3zM81 32.5h3v3.4h-3zM93 35.5h3v3.4h-3zM87 191.5h3v3.4h-3zM99 191.5h3v3.4h-3zM66 194.5h3v3.4h-3zM72 194.5h6v3.4h-6zM102 197.5h3v3.4h-3zM102 203.5h3v3.4h-3zM96 209.5h3v3.4h-3zM90 212.5h3v3.4h-3zM81 215.5h3v3.4h-3z"/><path fill="#d9e8f5" d="M81 17.5h3v3.4h-3zM99 29.5h3v3.4h-3zM84 32.5h3v3.4h-3zM99 32.5h3v3.4h-3zM90 191.5h9v3.4h-9zM78 194.5h3v3.4h-3zM99 194.5h3v3.4h-3zM102 200.5h3v3.4h-3zM99 206.5h3v3.4h-3zM78 215.5h3v3.4h-3z"/><path fill="#deebf7" d="M78 17.5h3v3.4h-3zM87 20.5h3v3.4h-3zM93 23.5h3v3.4h-3zM87 32.5h3v3.4h-3zM93 32.5h6v3.4h-6zM81 194.5h3v3.4h-3zM96 194.5h3v3.4h-3zM99 197.5h3v3.4h-3zM99 203.5h3v3.4h-3zM93 209.5h3v3.4h-3zM87 212.5h3v3.4h-3zM75 215.5h3v3.4h-3z"/><path fill="#e3eef9" d="M75 17.5h3v3.4h-3zM96 26.5h3v3.4h-3zM66 29.5h15v3.4h-15zM96 29.5h3v3.4h-3zM90 32.5h3v3.4h-3zM84 194.5h3v3.4h-3zM93 194.5h3v3.4h-3zM99 200.5h3v3.4h-3zM96 206.5h3v3.4h-3zM84 212.5h3v3.4h-3zM66 215.5h9v3.4h-9z"/><path fill="#e8f1fa" d="M66 17.5h9v3.4h-9zM81 20.5h6v3.4h-6zM90 23.5h3v3.4h-3zM93 26.5h3v3.4h-3zM81 29.5h15v3.4h-15zM87 194.5h6v3.4h-6zM66 197.5h15v3.4h-15zM96 197.5h3v3.4h-3zM96 200.5h3v3.4h-3zM96 203.5h3v3.4h-3zM87 209.5h6v3.4h-6zM78 212.5h6v3.4h-6z"/><path fill="#edf5fc" d="M72 20.5h9v3.4h-9zM78 23.5h12v3.4h-12zM66 26.5h27v3.4h-27zM81 197.5h15v3.4h-15zM69 200.5h21v3.4h-21zM93 200.5h3v3.4h-3zM93 203.5h3v3.4h-3zM87 206.5h9v3.4h-9zM78 209.5h9v3.4h-9zM66 212.5h12v3.4h-12z"/><path fill="#f2f8fd" d="M66 20.5h6v3.4h-6zM66 23.5h12v3.4h-12zM66 200.5h3v3.4h-3zM90 200.5h3v3.4h-3zM66 203.5h27v3.4h-27zM66 206.5h21v3.4h-21zM66 209.5h12v3.4h-12z"/></g><g filter="url(#nb)"><path fill="#0d57a1" d="M66 47.5h3v3.4h-3zM66 50.5h9v3.4h-9zM66 53.5h12v3.4h-12zM66 56.5h15v3.4h-15zM66 59.5h18v3.4h-18zM66 62.5h21v3.4h-21zM66 65.5h24v3.4h-24zM66 68.5h24v3.4h-24zM66 71.5h27v3.4h-27zM66 74.5h27v3.4h-27zM66 77.5h30v3.4h-30zM66 80.5h30v3.4h-30zM66 83.5h33v3.4h-33zM66 86.5h33v3.4h-33zM66 89.5h36v3.4h-36zM66 92.5h36v3.4h-36zM66 95.5h36v3.4h-36zM66 98.5h36v3.4h-36zM66 101.5h36v3.4h-36zM66 104.5h36v3.4h-36zM66 107.5h33v3.4h-33zM66 110.5h33v3.4h-33zM66 113.5h33v3.4h-33zM66 116.5h33v3.4h-33zM66 119.5h36v3.4h-36zM66 122.5h36v3.4h-36zM66 125.5h36v3.4h-36zM66 128.5h36v3.4h-36zM66 131.5h36v3.4h-36zM66 134.5h36v3.4h-36zM66 137.5h33v3.4h-33zM66 140.5h33v3.4h-33zM66 143.5h33v3.4h-33zM66 146.5h30v3.4h-30zM66 149.5h30v3.4h-30zM66 152.5h27v3.4h-27zM66 155.5h27v3.4h-27zM66 158.5h24v3.4h-24zM66 161.5h21v3.4h-21zM66 164.5h18v3.4h-18zM66 167.5h18v3.4h-18zM66 170.5h12v3.4h-12zM66 173.5h9v3.4h-9zM66 176.5h6v3.4h-6z"/><path fill="#125ea6" d="M66 44.5h9v3.4h-9zM69 47.5h12v3.4h-12zM75 50.5h12v3.4h-12zM78 53.5h12v3.4h-12zM81 56.5h12v3.4h-12zM84 59.5h12v3.4h-12zM87 62.5h12v3.4h-12zM90 65.5h12v3.4h-12zM90 68.5h15v3.4h-15zM93 71.5h12v3.4h-12zM93 74.5h15v3.4h-15zM96 77.5h15v3.4h-15zM96 80.5h15v3.4h-15zM99 83.5h15v3.4h-15zM99 86.5h18v3.4h-18zM102 89.5h15v3.4h-15zM102 92.5h15v3.4h-15zM102 95.5h15v3.4h-15zM102 98.5h18v3.4h-18zM102 101.5h18v3.4h-18zM102 104.5h18v3.4h-18zM99 107.5h21v3.4h-21zM99 110.5h21v3.4h-21zM99 113.5h21v3.4h-21zM99 116.5h21v3.4h-21zM102 119.5h18v3.4h-18zM102 122.5h18v3.4h-18zM102 125.5h18v3.4h-18zM102 128.5h18v3.4h-18zM102 131.5h15v3.4h-15zM102 134.5h15v3.4h-15zM99 137.5h18v3.4h-18zM99 140.5h15v3.4h-15zM99 143.5h15v3.4h-15zM96 146.5h15v3.4h-15zM96 149.5h12v3.4h-12zM93 152.5h15v3.4h-15zM93 155.5h12v3.4h-12zM90 158.5h12v3.4h-12zM87 161.5h12v3.4h-12zM84 164.5h12v3.4h-12zM84 167.5h9v3.4h-9zM78 170.5h12v3.4h-12zM75 173.5h12v3.4h-12zM72 176.5h12v3.4h-12zM66 179.5h12v3.4h-12zM66 182.5h3v3.4h-3z"/><path fill="#1764ab" d="M66 41.5h6v3.4h-6zM75 44.5h3v3.4h-3zM81 47.5h3v3.4h-3zM87 50.5h3v3.4h-3zM90 53.5h3v3.4h-3zM93 56.5h3v3.4h-3zM96 59.5h3v3.4h-3zM99 62.5h3v3.4h-3zM102 65.5h3v3.4h-3zM105 68.5h3v3.4h-3zM105 71.5h6v3.4h-6zM108 74.5h6v3.4h-6zM111 77.5h3v3.4h-3zM111 80.5h6v3.4h-6zM114 83.5h6v3.4h-6zM117 86.5h3v3.4h-3zM117 89.5h6v3.4h-6zM117 92.5h6v3.4h-6zM117 95.5h6v3.4h-6zM120 98.5h3v3.4h-3zM120 101.5h6v3.4h-6zM120 104.5h6v3.4h-6zM228 104.5h3v3.4h-3zM120 107.5h6v3.4h-6zM228 107.5h3v3.4h-3zM120 110.5h6v3.4h-6zM225 110.5h6v3.4h-6zM120 113.5h6v3.4h-6zM225 113.5h6v3.4h-6zM120 116.5h6v3.4h-6zM120 119.5h6v3.4h-6zM120 122.5h6v3.4h-6zM120 125.5h6v3.4h-6zM120 128.5h3v3.4h-3zM117 131.5h6v3.4h-6zM117 134.5h6v3.4h-6zM117 137.5h3v3.4h-3zM114 140.5h6v3.4h-6zM114 143.5h6v3.4h-6zM111 146.5h6v3.4h-6zM108 149.5h6v3.4h-6zM108 152.5h3v3.4h-3zM105 155.5h3v3.4h-3zM102 158.5h6v3.4h-6zM99 161.5h6v3.4h-6zM96 164.5h6v3.4h-6zM93 167.5h6v3.4h-6zM90 170.5h6v3.4h-6zM87 173.5h3v3.4h-3zM84 176.5h3v3.4h-3zM78 179.5h3v3.4h-3zM69 182.5h6v3.4h-6z"/><path fill="#1c6bb0" d="M72 41.5h3v3.4h-3zM78 44.5h3v3.4h-3zM84 47.5h3v3.4h-3zM90 50.5h3v3.4h-3zM93 53.5h3v3.4h-3zM96 56.5h3v3.4h-3zM99 59.5h3v3.4h-3zM102 62.5h3v3.4h-3zM105 65.5h3v3.4h-3zM108 68.5h3v3.4h-3zM111 71.5h3v3.4h-3zM114 74.5h3v3.4h-3zM114 77.5h6v3.4h-6zM117 80.5h3v3.4h-3zM120 83.5h3v3.4h-3zM120 86.5h3v3.4h-3zM123 89.5h3v3.4h-3zM123 92.5h3v3.4h-3zM210 92.5h24v3.4h-24zM123 95.5h3v3.4h-3zM201 95.5h45v3.4h-45zM123 98.5h6v3.4h-6zM195 98.5h60v3.4h-60zM126 101.5h3v3.4h-3zM195 101.5h63v3.4h-63zM126 104.5h6v3.4h-6zM192 104.5h36v3.4h-36zM231 104.5h27v3.4h-27zM126 107.5h6v3.4h-6zM192 107.5h36v3.4h-36zM231 107.5h27v3.4h-27zM126 110.5h6v3.4h-6zM192 110.5h33v3.4h-33zM231 110.5h27v3.4h-27zM126 113.5h6v3.4h-6zM192 113.5h33v3.4h-33zM231 113.5h27v3.4h-27zM126 116.5h6v3.4h-6zM192 116.5h66v3.4h-66zM126 119.5h6v3.4h-6zM195 119.5h60v3.4h-60zM126 122.5h3v3.4h-3zM198 122.5h42v3.4h-42zM126 125.5h3v3.4h-3zM207 125.5h9v3.4h-9zM123 128.5h6v3.4h-6zM123 131.5h3v3.4h-3zM123 134.5h3v3.4h-3zM120 137.5h6v3.4h-6zM120 140.5h3v3.4h-3zM120 143.5h3v3.4h-3zM117 146.5h3v3.4h-3zM114 149.5h3v3.4h-3zM111 152.5h3v3.4h-3zM108 155.5h3v3.4h-3zM108 158.5h3v3.4h-3zM105 161.5h3v3.4h-3zM102 164.5h3v3.4h-3zM99 167.5h3v3.4h-3zM90 173.5h3v3.4h-3zM87 176.5h3v3.4h-3zM81 179.5h3v3.4h-3zM75 182.5h3v3.4h-3zM66 185.5h3v3.4h-3z"/><path fill="#2171b5" d="M75 41.5h3v3.4h-3zM81 44.5h3v3.4h-3zM87 47.5h3v3.4h-3zM96 53.5h3v3.4h-3zM99 56.5h3v3.4h-3zM102 59.5h3v3.4h-3zM105 62.5h3v3.4h-3zM108 65.5h3v3.4h-3zM111 68.5h3v3.4h-3zM114 71.5h3v3.4h-3zM117 74.5h3v3.4h-3zM120 77.5h3v3.4h-3zM120 80.5h3v3.4h-3zM123 83.5h3v3.4h-3zM123 86.5h3v3.4h-3zM126 89.5h3v3.4h-3zM204 89.5h33v3.4h-33zM126 92.5h3v3.4h-3zM195 92.5h15v3.4h-15zM234 92.5h18v3.4h-18zM126 95.5h3v3.4h-3zM189 95.5h12v3.4h-12zM246 95.5h15v3.4h-15zM129 98.5h3v3.4h-3zM186 98.5h9v3.4h-9zM255 98.5h12v3.4h-12zM129 101.5h6v3.4h-6zM183 101.5h12v3.4h-12zM258 101.5h12v3.4h-12zM132 104.5h6v3.4h-6zM183 104.5h9v3.4h-9zM258 104.5h15v3.4h-15zM132 107.5h9v3.4h-9zM180 107.5h12v3.4h-12zM258 107.5h15v3.4h-15zM132 110.5h9v3.4h-9zM180 110.5h12v3.4h-12zM258 110.5h15v3.4h-15zM132 113.5h9v3.4h-9zM180 113.5h12v3.4h-12zM258 113.5h15v3.4h-15zM132 116.5h9v3.4h-9zM183 116.5h9v3.4h-9zM258 116.5h12v3.4h-12zM132 119.5h6v3.4h-6zM183 119.5h12v3.4h-12zM255 119.5h12v3.4h-12zM129 122.5h6v3.4h-6zM186 122.5h12v3.4h-12zM240 122.5h21v3.4h-21zM129 125.5h3v3.4h-3zM192 125.5h15v3.4h-15zM216 125.5h30v3.4h-30zM129 128.5h3v3.4h-3zM201 128.5h27v3.4h-27zM126 131.5h3v3.4h-3zM126 134.5h3v3.4h-3zM126 137.5h3v3.4h-3zM123 140.5h3v3.4h-3zM123 143.5h3v3.4h-3zM120 146.5h3v3.4h-3zM117 149.5h3v3.4h-3zM114 152.5h3v3.4h-3zM111 155.5h3v3.4h-3zM96 170.5h3v3.4h-3zM93 173.5h3v3.4h-3zM90 176.5h3v3.4h-3zM84 179.5h3v3.4h-3zM78 182.5h3v3.4h-3zM69 185.5h3v3.4h-3z"/><path fill="#2878b8" d="M66 38.5h3v3.4h-3zM84 44.5h3v3.4h-3zM93 50.5h3v3.4h-3zM123 80.5h3v3.4h-3zM126 83.5h3v3.4h-3zM126 86.5h3v3.4h-3zM207 86.5h24v3.4h-24zM129 89.5h3v3.4h-3zM195 89.5h9v3.4h-9zM237 89.5h12v3.4h-12zM129 92.5h3v3.4h-3zM186 92.5h9v3.4h-9zM252 92.5h9v3.4h-9zM129 95.5h3v3.4h-3zM183 95.5h6v3.4h-6zM261 95.5h9v3.4h-9zM132 98.5h3v3.4h-3zM180 98.5h6v3.4h-6zM267 98.5h9v3.4h-9zM135 101.5h6v3.4h-6zM177 101.5h6v3.4h-6zM270 101.5h12v3.4h-12zM138 104.5h6v3.4h-6zM174 104.5h9v3.4h-9zM273 104.5h12v3.4h-12zM141 107.5h6v3.4h-6zM174 107.5h6v3.4h-6zM273 107.5h12v3.4h-12zM141 110.5h6v3.4h-6zM174 110.5h6v3.4h-6zM273 110.5h12v3.4h-12zM141 113.5h6v3.4h-6zM174 113.5h6v3.4h-6zM273 113.5h12v3.4h-12zM141 116.5h6v3.4h-6zM174 116.5h9v3.4h-9zM270 116.5h15v3.4h-15zM138 119.5h6v3.4h-6zM177 119.5h6v3.4h-6zM267 119.5h12v3.4h-12zM135 122.5h6v3.4h-6zM180 122.5h6v3.4h-6zM261 122.5h9v3.4h-9zM132 125.5h6v3.4h-6zM183 125.5h9v3.4h-9zM246 125.5h15v3.4h-15zM132 128.5h3v3.4h-3zM192 128.5h9v3.4h-9zM228 128.5h12v3.4h-12zM129 131.5h3v3.4h-3zM204 131.5h12v3.4h-12zM129 134.5h3v3.4h-3zM126 140.5h3v3.4h-3zM123 146.5h3v3.4h-3zM120 149.5h3v3.4h-3zM117 152.5h3v3.4h-3zM114 155.5h3v3.4h-3zM111 158.5h3v3.4h-3zM108 161.5h3v3.4h-3zM105 164.5h3v3.4h-3zM102 167.5h3v3.4h-3zM99 170.5h3v3.4h-3zM72 185.5h3v3.4h-3z"/><path fill="#2e7ebc" d="M69 38.5h3v3.4h-3zM78 41.5h3v3.4h-3zM90 47.5h3v3.4h-3zM99 53.5h3v3.4h-3zM102 56.5h3v3.4h-3zM105 59.5h3v3.4h-3zM108 62.5h3v3.4h-3zM111 65.5h3v3.4h-3zM114 68.5h3v3.4h-3zM117 71.5h3v3.4h-3zM120 74.5h3v3.4h-3zM123 77.5h3v3.4h-3zM126 80.5h3v3.4h-3zM129 86.5h3v3.4h-3zM198 86.5h9v3.4h-9zM231 86.5h12v3.4h-12zM189 89.5h6v3.4h-6zM249 89.5h9v3.4h-9zM132 92.5h3v3.4h-3zM180 92.5h6v3.4h-6zM261 92.5h6v3.4h-6zM132 95.5h6v3.4h-6zM177 95.5h6v3.4h-6zM270 95.5h6v3.4h-6zM135 98.5h6v3.4h-6zM171 98.5h9v3.4h-9zM276 98.5h9v3.4h-9zM141 101.5h6v3.4h-6zM168 101.5h9v3.4h-9zM282 101.5h12v3.4h-12zM144 104.5h6v3.4h-6zM168 104.5h6v3.4h-6zM285 104.5h15v3.4h-15zM147 107.5h12v3.4h-12zM165 107.5h9v3.4h-9zM285 107.5h15v3.4h-15zM147 110.5h15v3.4h-15zM165 110.5h9v3.4h-9zM285 110.5h15v3.4h-15zM147 113.5h15v3.4h-15zM165 113.5h9v3.4h-9zM285 113.5h15v3.4h-15zM147 116.5h12v3.4h-12zM165 116.5h9v3.4h-9zM285 116.5h15v3.4h-15zM144 119.5h9v3.4h-9zM168 119.5h9v3.4h-9zM279 119.5h15v3.4h-15zM141 122.5h6v3.4h-6zM171 122.5h9v3.4h-9zM270 122.5h12v3.4h-12zM138 125.5h6v3.4h-6zM177 125.5h6v3.4h-6zM261 125.5h9v3.4h-9zM135 128.5h6v3.4h-6zM183 128.5h9v3.4h-9zM240 128.5h15v3.4h-15zM132 131.5h3v3.4h-3zM195 131.5h9v3.4h-9zM216 131.5h18v3.4h-18zM132 134.5h3v3.4h-3zM129 137.5h3v3.4h-3zM129 140.5h3v3.4h-3zM126 143.5h3v3.4h-3zM126 146.5h3v3.4h-3zM123 149.5h3v3.4h-3zM120 152.5h3v3.4h-3zM117 155.5h3v3.4h-3zM114 158.5h3v3.4h-3zM96 173.5h3v3.4h-3zM93 176.5h3v3.4h-3zM87 179.5h3v3.4h-3zM81 182.5h3v3.4h-3z"/><path fill="#3585bf" d="M87 44.5h3v3.4h-3zM96 50.5h3v3.4h-3zM114 65.5h3v3.4h-3zM117 68.5h3v3.4h-3zM120 71.5h3v3.4h-3zM123 74.5h3v3.4h-3zM126 77.5h3v3.4h-3zM129 80.5h3v3.4h-3zM129 83.5h3v3.4h-3zM201 83.5h33v3.4h-33zM132 86.5h3v3.4h-3zM192 86.5h6v3.4h-6zM243 86.5h9v3.4h-9zM132 89.5h3v3.4h-3zM183 89.5h6v3.4h-6zM258 89.5h6v3.4h-6zM135 92.5h3v3.4h-3zM177 92.5h3v3.4h-3zM267 92.5h6v3.4h-6zM138 95.5h3v3.4h-3zM171 95.5h6v3.4h-6zM276 95.5h9v3.4h-9zM141 98.5h6v3.4h-6zM165 98.5h6v3.4h-6zM285 98.5h9v3.4h-9zM147 101.5h21v3.4h-21zM294 101.5h12v3.4h-12zM150 104.5h18v3.4h-18zM300 104.5h12v3.4h-12zM159 107.5h6v3.4h-6zM300 107.5h15v3.4h-15zM162 110.5h3v3.4h-3zM300 110.5h15v3.4h-15zM162 113.5h3v3.4h-3zM300 113.5h15v3.4h-15zM159 116.5h6v3.4h-6zM300 116.5h15v3.4h-15zM153 119.5h15v3.4h-15zM294 119.5h12v3.4h-12zM147 122.5h24v3.4h-24zM282 122.5h12v3.4h-12zM144 125.5h6v3.4h-6zM168 125.5h9v3.4h-9zM270 125.5h6v3.4h-6zM141 128.5h3v3.4h-3zM174 128.5h9v3.4h-9zM255 128.5h9v3.4h-9zM135 131.5h6v3.4h-6zM183 131.5h12v3.4h-12zM234 131.5h12v3.4h-12zM198 134.5h27v3.4h-27zM132 137.5h3v3.4h-3zM129 143.5h3v3.4h-3zM126 149.5h3v3.4h-3zM111 161.5h3v3.4h-3zM108 164.5h3v3.4h-3zM105 167.5h3v3.4h-3zM102 170.5h3v3.4h-3zM75 185.5h3v3.4h-3z"/><path fill="#3b8bc3" d="M72 38.5h3v3.4h-3zM81 41.5h3v3.4h-3zM93 47.5h3v3.4h-3zM105 56.5h3v3.4h-3zM108 59.5h3v3.4h-3zM111 62.5h3v3.4h-3zM123 71.5h3v3.4h-3zM126 74.5h3v3.4h-3zM129 77.5h3v3.4h-3zM132 83.5h3v3.4h-3zM195 83.5h6v3.4h-6zM234 83.5h9v3.4h-9zM186 86.5h6v3.4h-6zM252 86.5h6v3.4h-6zM135 89.5h3v3.4h-3zM177 89.5h6v3.4h-6zM264 89.5h3v3.4h-3zM138 92.5h3v3.4h-3zM171 92.5h6v3.4h-6zM273 92.5h6v3.4h-6zM141 95.5h6v3.4h-6zM162 95.5h9v3.4h-9zM285 95.5h6v3.4h-6zM147 98.5h18v3.4h-18zM294 98.5h9v3.4h-9zM306 101.5h9v3.4h-9zM312 104.5h3v3.4h-3zM306 119.5h9v3.4h-9zM294 122.5h12v3.4h-12zM150 125.5h18v3.4h-18zM276 125.5h9v3.4h-9zM144 128.5h6v3.4h-6zM168 128.5h6v3.4h-6zM264 128.5h6v3.4h-6zM141 131.5h3v3.4h-3zM177 131.5h6v3.4h-6zM246 131.5h9v3.4h-9zM135 134.5h6v3.4h-6zM189 134.5h9v3.4h-9zM225 134.5h12v3.4h-12zM135 137.5h3v3.4h-3zM132 140.5h3v3.4h-3zM132 143.5h3v3.4h-3zM129 146.5h3v3.4h-3zM123 152.5h3v3.4h-3zM120 155.5h3v3.4h-3zM117 158.5h3v3.4h-3zM114 161.5h3v3.4h-3zM99 173.5h3v3.4h-3zM90 179.5h3v3.4h-3zM84 182.5h3v3.4h-3z"/><path fill="#4292c6" d="M99 50.5h3v3.4h-3zM102 53.5h3v3.4h-3zM117 65.5h3v3.4h-3zM120 68.5h3v3.4h-3zM132 80.5h3v3.4h-3zM201 80.5h33v3.4h-33zM189 83.5h6v3.4h-6zM243 83.5h6v3.4h-6zM135 86.5h3v3.4h-3zM180 86.5h6v3.4h-6zM258 86.5h3v3.4h-3zM138 89.5h3v3.4h-3zM171 89.5h6v3.4h-6zM267 89.5h6v3.4h-6zM141 92.5h6v3.4h-6zM162 92.5h9v3.4h-9zM279 92.5h3v3.4h-3zM147 95.5h15v3.4h-15zM291 95.5h6v3.4h-6zM303 98.5h6v3.4h-6zM306 122.5h9v3.4h-9zM285 125.5h9v3.4h-9zM150 128.5h18v3.4h-18zM270 128.5h6v3.4h-6zM144 131.5h6v3.4h-6zM168 131.5h9v3.4h-9zM255 131.5h6v3.4h-6zM141 134.5h3v3.4h-3zM180 134.5h9v3.4h-9zM237 134.5h6v3.4h-6zM138 137.5h3v3.4h-3zM198 137.5h27v3.4h-27zM135 140.5h3v3.4h-3zM132 146.5h3v3.4h-3zM129 149.5h3v3.4h-3zM126 152.5h3v3.4h-3zM123 155.5h3v3.4h-3zM111 164.5h3v3.4h-3zM108 167.5h3v3.4h-3zM96 176.5h3v3.4h-3zM78 185.5h3v3.4h-3z"/><path fill="#4a98c9" d="M75 38.5h3v3.4h-3zM90 44.5h3v3.4h-3zM111 59.5h3v3.4h-3zM114 62.5h3v3.4h-3zM123 68.5h3v3.4h-3zM126 71.5h3v3.4h-3zM129 74.5h3v3.4h-3zM132 77.5h3v3.4h-3zM135 80.5h3v3.4h-3zM195 80.5h6v3.4h-6zM234 80.5h9v3.4h-9zM135 83.5h3v3.4h-3zM183 83.5h6v3.4h-6zM249 83.5h6v3.4h-6zM138 86.5h3v3.4h-3zM174 86.5h6v3.4h-6zM261 86.5h6v3.4h-6zM141 89.5h6v3.4h-6zM165 89.5h6v3.4h-6zM273 89.5h3v3.4h-3zM147 92.5h15v3.4h-15zM282 92.5h6v3.4h-6zM297 95.5h6v3.4h-6zM309 98.5h6v3.4h-6zM294 125.5h9v3.4h-9zM276 128.5h6v3.4h-6zM150 131.5h18v3.4h-18zM261 131.5h6v3.4h-6zM144 134.5h6v3.4h-6zM171 134.5h9v3.4h-9zM243 134.5h9v3.4h-9zM141 137.5h3v3.4h-3zM186 137.5h12v3.4h-12zM225 137.5h9v3.4h-9zM138 140.5h3v3.4h-3zM135 143.5h3v3.4h-3zM135 146.5h3v3.4h-3zM132 149.5h3v3.4h-3zM129 152.5h3v3.4h-3zM120 158.5h3v3.4h-3zM117 161.5h3v3.4h-3zM105 170.5h3v3.4h-3zM102 173.5h3v3.4h-3zM66 188.5h3v3.4h-3z"/><path fill="#529dcc" d="M84 41.5h3v3.4h-3zM96 47.5h3v3.4h-3zM105 53.5h3v3.4h-3zM108 56.5h3v3.4h-3zM120 65.5h3v3.4h-3zM129 71.5h3v3.4h-3zM132 74.5h3v3.4h-3zM135 77.5h3v3.4h-3zM204 77.5h27v3.4h-27zM189 80.5h6v3.4h-6zM243 80.5h3v3.4h-3zM138 83.5h3v3.4h-3zM177 83.5h6v3.4h-6zM255 83.5h6v3.4h-6zM141 86.5h6v3.4h-6zM168 86.5h6v3.4h-6zM267 86.5h3v3.4h-3zM147 89.5h18v3.4h-18zM276 89.5h6v3.4h-6zM288 92.5h6v3.4h-6zM303 95.5h3v3.4h-3zM303 125.5h9v3.4h-9zM282 128.5h9v3.4h-9zM267 131.5h6v3.4h-6zM150 134.5h21v3.4h-21zM252 134.5h9v3.4h-9zM144 137.5h6v3.4h-6zM174 137.5h12v3.4h-12zM234 137.5h9v3.4h-9zM141 140.5h3v3.4h-3zM195 140.5h30v3.4h-30zM138 143.5h3v3.4h-3zM138 146.5h3v3.4h-3zM135 149.5h3v3.4h-3zM132 152.5h3v3.4h-3zM126 155.5h3v3.4h-3zM123 158.5h3v3.4h-3zM114 164.5h3v3.4h-3zM99 176.5h3v3.4h-3zM93 179.5h3v3.4h-3zM87 182.5h3v3.4h-3zM69 188.5h3v3.4h-3z"/><path fill="#5ba3d0" d="M102 50.5h3v3.4h-3zM114 59.5h3v3.4h-3zM117 62.5h3v3.4h-3zM123 65.5h3v3.4h-3zM126 68.5h3v3.4h-3zM132 71.5h3v3.4h-3zM135 74.5h3v3.4h-3zM138 77.5h3v3.4h-3zM195 77.5h9v3.4h-9zM231 77.5h9v3.4h-9zM138 80.5h3v3.4h-3zM183 80.5h6v3.4h-6zM246 80.5h6v3.4h-6zM141 83.5h3v3.4h-3zM171 83.5h6v3.4h-6zM261 83.5h3v3.4h-3zM147 86.5h21v3.4h-21zM270 86.5h3v3.4h-3zM282 89.5h3v3.4h-3zM294 92.5h6v3.4h-6zM306 95.5h6v3.4h-6zM312 125.5h3v3.4h-3zM291 128.5h9v3.4h-9zM273 131.5h6v3.4h-6zM261 134.5h6v3.4h-6zM150 137.5h24v3.4h-24zM243 137.5h9v3.4h-9zM144 140.5h6v3.4h-6zM183 140.5h12v3.4h-12zM225 140.5h9v3.4h-9zM141 143.5h3v3.4h-3zM138 149.5h3v3.4h-3zM135 152.5h3v3.4h-3zM129 155.5h6v3.4h-6zM126 158.5h3v3.4h-3zM120 161.5h3v3.4h-3zM111 167.5h3v3.4h-3zM108 170.5h3v3.4h-3zM81 185.5h3v3.4h-3z"/><path fill="#63a8d3" d="M78 38.5h3v3.4h-3zM111 56.5h3v3.4h-3zM120 62.5h3v3.4h-3zM129 68.5h6v3.4h-6zM135 71.5h3v3.4h-3zM138 74.5h3v3.4h-3zM204 74.5h24v3.4h-24zM141 77.5h3v3.4h-3zM189 77.5h6v3.4h-6zM240 77.5h6v3.4h-6zM141 80.5h3v3.4h-3zM174 80.5h9v3.4h-9zM252 80.5h6v3.4h-6zM144 83.5h27v3.4h-27zM264 83.5h3v3.4h-3zM273 86.5h6v3.4h-6zM285 89.5h6v3.4h-6zM300 92.5h3v3.4h-3zM312 95.5h3v3.4h-3zM300 128.5h6v3.4h-6zM279 131.5h6v3.4h-6zM267 134.5h3v3.4h-3zM252 137.5h6v3.4h-6zM150 140.5h33v3.4h-33zM234 140.5h6v3.4h-6zM144 143.5h6v3.4h-6zM195 143.5h30v3.4h-30zM141 146.5h6v3.4h-6zM141 149.5h3v3.4h-3zM138 152.5h3v3.4h-3zM135 155.5h3v3.4h-3zM129 158.5h3v3.4h-3zM123 161.5h3v3.4h-3zM117 164.5h3v3.4h-3zM105 173.5h3v3.4h-3zM72 188.5h3v3.4h-3z"/><path fill="#6baed6" d="M87 41.5h3v3.4h-3zM93 44.5h3v3.4h-3zM99 47.5h3v3.4h-3zM108 53.5h3v3.4h-3zM117 59.5h3v3.4h-3zM126 65.5h6v3.4h-6zM135 68.5h3v3.4h-3zM138 71.5h3v3.4h-3zM141 74.5h3v3.4h-3zM195 74.5h9v3.4h-9zM228 74.5h9v3.4h-9zM144 77.5h3v3.4h-3zM180 77.5h9v3.4h-9zM246 77.5h6v3.4h-6zM144 80.5h30v3.4h-30zM258 80.5h3v3.4h-3zM267 83.5h6v3.4h-6zM279 86.5h3v3.4h-3zM291 89.5h3v3.4h-3zM303 92.5h6v3.4h-6zM306 128.5h9v3.4h-9zM285 131.5h9v3.4h-9zM270 134.5h6v3.4h-6zM258 137.5h6v3.4h-6zM240 140.5h12v3.4h-12zM150 143.5h45v3.4h-45zM225 143.5h9v3.4h-9zM147 146.5h3v3.4h-3zM204 146.5h9v3.4h-9zM144 149.5h3v3.4h-3zM141 152.5h6v3.4h-6zM138 155.5h6v3.4h-6zM132 158.5h9v3.4h-9zM126 161.5h3v3.4h-3zM114 167.5h3v3.4h-3zM102 176.5h3v3.4h-3zM96 179.5h3v3.4h-3zM90 182.5h3v3.4h-3z"/><path fill="#75b4d8" d="M66 35.5h3v3.4h-3zM105 50.5h3v3.4h-3zM123 62.5h3v3.4h-3zM132 65.5h6v3.4h-6zM138 68.5h6v3.4h-6zM141 71.5h6v3.4h-6zM204 71.5h27v3.4h-27zM144 74.5h6v3.4h-6zM186 74.5h9v3.4h-9zM237 74.5h9v3.4h-9zM147 77.5h33v3.4h-33zM252 77.5h6v3.4h-6zM261 80.5h6v3.4h-6zM273 83.5h3v3.4h-3zM282 86.5h6v3.4h-6zM294 89.5h6v3.4h-6zM309 92.5h3v3.4h-3zM294 131.5h9v3.4h-9zM276 134.5h9v3.4h-9zM264 137.5h9v3.4h-9zM252 140.5h6v3.4h-6zM234 143.5h9v3.4h-9zM150 146.5h54v3.4h-54zM213 146.5h18v3.4h-18zM147 149.5h6v3.4h-6zM147 152.5h6v3.4h-6zM144 155.5h6v3.4h-6zM141 158.5h6v3.4h-6zM129 161.5h15v3.4h-15zM120 164.5h3v3.4h-3zM111 170.5h3v3.4h-3zM84 185.5h3v3.4h-3zM75 188.5h3v3.4h-3z"/><path fill="#7fb9da" d="M69 35.5h3v3.4h-3zM81 38.5h3v3.4h-3zM102 47.5h3v3.4h-3zM114 56.5h3v3.4h-3zM120 59.5h3v3.4h-3zM126 62.5h12v3.4h-12zM138 65.5h9v3.4h-9zM144 68.5h6v3.4h-6zM147 71.5h6v3.4h-6zM189 71.5h15v3.4h-15zM231 71.5h9v3.4h-9zM150 74.5h36v3.4h-36zM246 74.5h6v3.4h-6zM258 77.5h6v3.4h-6zM267 80.5h6v3.4h-6zM276 83.5h6v3.4h-6zM288 86.5h6v3.4h-6zM300 89.5h6v3.4h-6zM312 92.5h3v3.4h-3zM303 131.5h12v3.4h-12zM285 134.5h12v3.4h-12zM273 137.5h6v3.4h-6zM258 140.5h12v3.4h-12zM243 143.5h15v3.4h-15zM231 146.5h12v3.4h-12zM153 149.5h78v3.4h-78zM153 152.5h9v3.4h-9zM150 155.5h9v3.4h-9zM147 158.5h9v3.4h-9zM144 161.5h9v3.4h-9zM123 164.5h27v3.4h-27zM117 167.5h3v3.4h-3zM141 167.5h6v3.4h-6zM108 173.5h3v3.4h-3zM99 179.5h3v3.4h-3z"/><path fill="#8abfdd" d="M96 44.5h3v3.4h-3zM111 53.5h3v3.4h-3zM117 56.5h3v3.4h-3zM123 59.5h24v3.4h-24zM138 62.5h15v3.4h-15zM147 65.5h9v3.4h-9zM150 68.5h9v3.4h-9zM192 68.5h45v3.4h-45zM153 71.5h36v3.4h-36zM240 71.5h9v3.4h-9zM252 74.5h9v3.4h-9zM264 77.5h6v3.4h-6zM273 80.5h6v3.4h-6zM282 83.5h9v3.4h-9zM294 86.5h9v3.4h-9zM306 89.5h9v3.4h-9zM297 134.5h18v3.4h-18zM279 137.5h27v3.4h-27zM270 140.5h21v3.4h-21zM258 143.5h21v3.4h-21zM243 146.5h24v3.4h-24zM231 149.5h27v3.4h-27zM162 152.5h84v3.4h-84zM159 155.5h75v3.4h-75zM156 158.5h36v3.4h-36zM198 158.5h21v3.4h-21zM153 161.5h30v3.4h-30zM150 164.5h30v3.4h-30zM120 167.5h6v3.4h-6zM129 167.5h12v3.4h-12zM147 167.5h33v3.4h-33zM114 170.5h3v3.4h-3zM135 170.5h42v3.4h-42zM138 173.5h39v3.4h-39zM105 176.5h3v3.4h-3zM138 176.5h36v3.4h-36zM138 179.5h33v3.4h-33zM93 182.5h3v3.4h-3zM141 182.5h27v3.4h-27zM141 185.5h24v3.4h-24zM141 188.5h18v3.4h-18zM144 191.5h9v3.4h-9z"/><path fill="#94c4df" d="M72 35.5h3v3.4h-3zM90 41.5h3v3.4h-3zM108 50.5h3v3.4h-3zM141 50.5h9v3.4h-9zM114 53.5h3v3.4h-3zM138 53.5h18v3.4h-18zM120 56.5h3v3.4h-3zM132 56.5h30v3.4h-30zM147 59.5h18v3.4h-18zM153 62.5h18v3.4h-18zM201 62.5h30v3.4h-30zM156 65.5h90v3.4h-90zM159 68.5h33v3.4h-33zM237 68.5h21v3.4h-21zM249 71.5h18v3.4h-18zM261 74.5h21v3.4h-21zM270 77.5h45v3.4h-45zM279 80.5h36v3.4h-36zM291 83.5h24v3.4h-24zM303 86.5h12v3.4h-12zM306 137.5h9v3.4h-9zM291 140.5h24v3.4h-24zM279 143.5h36v3.4h-36zM267 146.5h48v3.4h-48zM258 149.5h57v3.4h-57zM246 152.5h69v3.4h-69zM234 155.5h81v3.4h-81zM192 158.5h6v3.4h-6zM219 158.5h96v3.4h-96zM183 161.5h132v3.4h-132zM180 164.5h135v3.4h-135zM126 167.5h3v3.4h-3zM180 167.5h135v3.4h-135zM117 170.5h3v3.4h-3zM129 170.5h6v3.4h-6zM177 170.5h138v3.4h-138zM111 173.5h3v3.4h-3zM132 173.5h6v3.4h-6zM177 173.5h138v3.4h-138zM132 176.5h6v3.4h-6zM174 176.5h141v3.4h-141zM102 179.5h3v3.4h-3zM132 179.5h6v3.4h-6zM171 179.5h144v3.4h-144zM132 182.5h9v3.4h-9zM168 182.5h147v3.4h-147zM87 185.5h3v3.4h-3zM132 185.5h9v3.4h-9zM165 185.5h150v3.4h-150zM78 188.5h3v3.4h-3zM129 188.5h12v3.4h-12zM159 188.5h156v3.4h-156zM126 191.5h18v3.4h-18zM153 191.5h162v3.4h-162zM126 194.5h189v3.4h-189zM126 197.5h189v3.4h-189zM123 200.5h192v3.4h-192zM123 203.5h192v3.4h-192zM120 206.5h195v3.4h-195zM114 209.5h201v3.4h-201zM111 212.5h204v3.4h-204zM108 215.5h207v3.4h-207zM102 218.5h213v3.4h-213z"/><path fill="#9ecae1" d="M111 8.5h204v3.4h-204zM114 11.5h201v3.4h-201zM120 14.5h195v3.4h-195zM123 17.5h192v3.4h-192zM126 20.5h189v3.4h-189zM129 23.5h186v3.4h-186zM132 26.5h183v3.4h-183zM132 29.5h183v3.4h-183zM135 32.5h180v3.4h-180zM135 35.5h180v3.4h-180zM84 38.5h3v3.4h-3zM135 38.5h180v3.4h-180zM135 41.5h180v3.4h-180zM99 44.5h3v3.4h-3zM135 44.5h180v3.4h-180zM105 47.5h3v3.4h-3zM135 47.5h180v3.4h-180zM132 50.5h9v3.4h-9zM150 50.5h165v3.4h-165zM129 53.5h9v3.4h-9zM156 53.5h159v3.4h-159zM123 56.5h9v3.4h-9zM162 56.5h153v3.4h-153zM165 59.5h150v3.4h-150zM171 62.5h30v3.4h-30zM231 62.5h84v3.4h-84zM246 65.5h69v3.4h-69zM258 68.5h57v3.4h-57zM267 71.5h48v3.4h-48zM282 74.5h33v3.4h-33zM120 170.5h9v3.4h-9zM126 173.5h6v3.4h-6zM108 176.5h3v3.4h-3zM129 176.5h3v3.4h-3zM129 179.5h3v3.4h-3zM129 182.5h3v3.4h-3zM126 185.5h6v3.4h-6zM126 188.5h3v3.4h-3zM123 191.5h3v3.4h-3zM123 194.5h3v3.4h-3zM123 197.5h3v3.4h-3zM120 200.5h3v3.4h-3zM120 203.5h3v3.4h-3zM117 206.5h3v3.4h-3zM108 212.5h3v3.4h-3zM105 215.5h3v3.4h-3zM99 218.5h3v3.4h-3z"/><path fill="#a6cde4" d="M87 8.5h24v3.4h-24zM93 11.5h21v3.4h-21zM99 14.5h21v3.4h-21zM105 17.5h18v3.4h-18zM111 20.5h15v3.4h-15zM114 23.5h15v3.4h-15zM120 26.5h12v3.4h-12zM123 29.5h9v3.4h-9zM126 32.5h9v3.4h-9zM75 35.5h3v3.4h-3zM126 35.5h9v3.4h-9zM129 38.5h6v3.4h-6zM129 41.5h6v3.4h-6zM129 44.5h6v3.4h-6zM129 47.5h6v3.4h-6zM111 50.5h3v3.4h-3zM129 50.5h3v3.4h-3zM117 53.5h12v3.4h-12zM114 173.5h12v3.4h-12zM126 176.5h3v3.4h-3zM105 179.5h3v3.4h-3zM126 179.5h3v3.4h-3zM96 182.5h3v3.4h-3zM126 182.5h3v3.4h-3zM123 185.5h3v3.4h-3zM81 188.5h3v3.4h-3zM120 188.5h6v3.4h-6zM120 197.5h3v3.4h-3zM117 203.5h3v3.4h-3zM114 206.5h3v3.4h-3zM111 209.5h3v3.4h-3zM102 215.5h3v3.4h-3zM96 218.5h3v3.4h-3z"/><path fill="#aed1e7" d="M66 8.5h21v3.4h-21zM84 11.5h9v3.4h-9zM93 14.5h6v3.4h-6zM99 17.5h6v3.4h-6zM105 20.5h6v3.4h-6zM108 23.5h6v3.4h-6zM114 26.5h6v3.4h-6zM117 29.5h6v3.4h-6zM120 32.5h6v3.4h-6zM123 35.5h3v3.4h-3zM123 38.5h6v3.4h-6zM93 41.5h3v3.4h-3zM126 41.5h3v3.4h-3zM102 44.5h3v3.4h-3zM126 44.5h3v3.4h-3zM108 47.5h3v3.4h-3zM126 47.5h3v3.4h-3zM114 50.5h3v3.4h-3zM123 50.5h6v3.4h-6zM111 176.5h3v3.4h-3zM120 176.5h6v3.4h-6zM123 179.5h3v3.4h-3zM123 182.5h3v3.4h-3zM90 185.5h3v3.4h-3zM120 185.5h3v3.4h-3zM117 188.5h3v3.4h-3zM120 191.5h3v3.4h-3zM120 194.5h3v3.4h-3zM117 200.5h3v3.4h-3zM108 209.5h3v3.4h-3zM105 212.5h3v3.4h-3zM99 215.5h3v3.4h-3zM93 218.5h3v3.4h-3z"/><path fill="#b6d4e9" d="M81 11.5h3v3.4h-3zM90 14.5h3v3.4h-3zM96 17.5h3v3.4h-3zM102 20.5h3v3.4h-3zM105 23.5h3v3.4h-3zM111 26.5h3v3.4h-3zM114 29.5h3v3.4h-3zM117 32.5h3v3.4h-3zM78 35.5h3v3.4h-3zM120 35.5h3v3.4h-3zM87 38.5h3v3.4h-3zM120 38.5h3v3.4h-3zM123 41.5h3v3.4h-3zM105 44.5h3v3.4h-3zM123 44.5h3v3.4h-3zM111 47.5h3v3.4h-3zM123 47.5h3v3.4h-3zM117 50.5h6v3.4h-6zM114 176.5h6v3.4h-6zM108 179.5h3v3.4h-3zM117 179.5h6v3.4h-6zM99 182.5h9v3.4h-9zM120 182.5h3v3.4h-3zM117 185.5h3v3.4h-3zM66 191.5h6v3.4h-6zM117 191.5h3v3.4h-3zM117 194.5h3v3.4h-3zM117 197.5h3v3.4h-3zM114 203.5h3v3.4h-3zM111 206.5h3v3.4h-3z"/><path fill="#bed8ec" d="M78 11.5h3v3.4h-3zM87 14.5h3v3.4h-3zM108 26.5h3v3.4h-3zM111 29.5h3v3.4h-3zM114 32.5h3v3.4h-3zM114 35.5h6v3.4h-6zM117 38.5h3v3.4h-3zM96 41.5h3v3.4h-3zM120 41.5h3v3.4h-3zM108 44.5h3v3.4h-3zM120 44.5h3v3.4h-3zM114 47.5h9v3.4h-9zM111 179.5h6v3.4h-6zM108 182.5h3v3.4h-3zM114 182.5h6v3.4h-6zM114 185.5h3v3.4h-3zM84 188.5h3v3.4h-3zM114 188.5h3v3.4h-3zM72 191.5h3v3.4h-3zM114 191.5h3v3.4h-3zM114 200.5h3v3.4h-3zM102 212.5h3v3.4h-3zM96 215.5h3v3.4h-3zM90 218.5h3v3.4h-3z"/><path fill="#c6dbef" d="M75 11.5h3v3.4h-3zM93 17.5h3v3.4h-3zM99 20.5h3v3.4h-3zM111 32.5h3v3.4h-3zM114 38.5h3v3.4h-3zM99 41.5h12v3.4h-12zM114 41.5h6v3.4h-6zM111 44.5h9v3.4h-9zM111 182.5h3v3.4h-3zM93 185.5h3v3.4h-3zM108 185.5h6v3.4h-6zM111 188.5h3v3.4h-3zM114 194.5h3v3.4h-3zM114 197.5h3v3.4h-3zM111 203.5h3v3.4h-3zM108 206.5h3v3.4h-3zM105 209.5h3v3.4h-3zM87 218.5h3v3.4h-3z"/><path fill="#cbdef1" d="M72 11.5h3v3.4h-3zM84 14.5h3v3.4h-3zM102 23.5h3v3.4h-3zM108 29.5h3v3.4h-3zM81 35.5h3v3.4h-3zM111 35.5h3v3.4h-3zM90 38.5h3v3.4h-3zM108 38.5h6v3.4h-6zM111 41.5h3v3.4h-3zM96 185.5h3v3.4h-3zM105 185.5h3v3.4h-3zM108 188.5h3v3.4h-3zM75 191.5h3v3.4h-3zM111 191.5h3v3.4h-3zM99 212.5h3v3.4h-3zM93 215.5h3v3.4h-3z"/><path fill="#d0e1f2" d="M66 11.5h6v3.4h-6zM90 17.5h3v3.4h-3zM96 20.5h3v3.4h-3zM105 26.5h3v3.4h-3zM108 35.5h3v3.4h-3zM105 38.5h3v3.4h-3zM99 185.5h6v3.4h-6zM87 188.5h3v3.4h-3zM78 191.5h3v3.4h-3zM111 194.5h3v3.4h-3zM111 197.5h3v3.4h-3zM111 200.5h3v3.4h-3zM102 209.5h3v3.4h-3zM84 218.5h3v3.4h-3z"/><path fill="#d4e5f4" d="M81 14.5h3v3.4h-3zM66 32.5h6v3.4h-6zM108 32.5h3v3.4h-3zM84 35.5h3v3.4h-3zM93 38.5h3v3.4h-3zM102 38.5h3v3.4h-3zM105 188.5h3v3.4h-3zM108 191.5h3v3.4h-3zM108 203.5h3v3.4h-3zM105 206.5h3v3.4h-3zM96 212.5h3v3.4h-3zM90 215.5h3v3.4h-3zM81 218.5h3v3.4h-3z"/><path fill="#d9e8f5" d="M78 14.5h3v3.4h-3zM87 17.5h3v3.4h-3zM99 23.5h3v3.4h-3zM102 26.5h3v3.4h-3zM105 29.5h3v3.4h-3zM72 32.5h3v3.4h-3zM105 35.5h3v3.4h-3zM96 38.5h6v3.4h-6zM90 188.5h3v3.4h-3zM102 188.5h3v3.4h-3zM81 191.5h3v3.4h-3zM105 191.5h3v3.4h-3zM108 194.5h3v3.4h-3zM108 197.5h3v3.4h-3zM108 200.5h3v3.4h-3zM78 218.5h3v3.4h-3z"/><path fill="#deebf7" d="M75 14.5h3v3.4h-3zM93 20.5h3v3.4h-3zM75 32.5h3v3.4h-3zM105 32.5h3v3.4h-3zM87 35.5h3v3.4h-3zM102 35.5h3v3.4h-3zM93 188.5h9v3.4h-9zM84 191.5h3v3.4h-3zM102 191.5h3v3.4h-3zM105 194.5h3v3.4h-3zM105 197.5h3v3.4h-3zM105 203.5h3v3.4h-3zM102 206.5h3v3.4h-3zM99 209.5h3v3.4h-3zM93 212.5h3v3.4h-3zM87 215.5h3v3.4h-3zM72 218.5h6v3.4h-6z"/><path fill="#e3eef9" d="M66 14.5h9v3.4h-9zM84 17.5h3v3.4h-3zM96 23.5h3v3.4h-3zM99 26.5h3v3.4h-3zM102 29.5h3v3.4h-3zM78 32.5h6v3.4h-6zM102 32.5h3v3.4h-3zM90 35.5h12v3.4h-12zM87 191.5h3v3.4h-3zM99 191.5h3v3.4h-3zM66 194.5h9v3.4h-9zM102 194.5h3v3.4h-3zM105 200.5h3v3.4h-3zM102 203.5h3v3.4h-3zM96 209.5h3v3.4h-3zM90 212.5h3v3.4h-3zM81 215.5h6v3.4h-6zM66 218.5h6v3.4h-6z"/><path fill="#e8f1fa" d="M81 17.5h3v3.4h-3zM90 20.5h3v3.4h-3zM99 29.5h3v3.4h-3zM84 32.5h3v3.4h-3zM96 32.5h6v3.4h-6zM90 191.5h9v3.4h-9zM75 194.5h6v3.4h-6zM99 194.5h3v3.4h-3zM102 197.5h3v3.4h-3zM102 200.5h3v3.4h-3zM99 206.5h3v3.4h-3zM87 212.5h3v3.4h-3zM78 215.5h3v3.4h-3z"/><path fill="#edf5fc" d="M75 17.5h6v3.4h-6zM84 20.5h6v3.4h-6zM93 23.5h3v3.4h-3zM96 26.5h3v3.4h-3zM66 29.5h18v3.4h-18zM96 29.5h3v3.4h-3zM87 32.5h9v3.4h-9zM81 194.5h9v3.4h-9zM93 194.5h6v3.4h-6zM96 197.5h6v3.4h-6zM99 200.5h3v3.4h-3zM99 203.5h3v3.4h-3zM96 206.5h3v3.4h-3zM90 209.5h6v3.4h-6zM81 212.5h6v3.4h-6zM66 215.5h12v3.4h-12z"/><path fill="#f2f8fd" d="M66 17.5h9v3.4h-9zM78 20.5h6v3.4h-6zM84 23.5h9v3.4h-9zM66 26.5h30v3.4h-30zM84 29.5h12v3.4h-12zM90 194.5h3v3.4h-3zM66 197.5h30v3.4h-30zM93 200.5h6v3.4h-6zM93 203.5h6v3.4h-6zM90 206.5h6v3.4h-6zM84 209.5h6v3.4h-6zM66 212.5h15v3.4h-15z"/><path fill="#f7fbff" d="M66 20.5h12v3.4h-12zM66 23.5h18v3.4h-18zM66 200.5h27v3.4h-27zM66 203.5h27v3.4h-27zM66 206.5h24v3.4h-24zM66 209.5h18v3.4h-18z"/></g><path fill="#f2f7fc" opacity="0.6" d="M155.4 90.5h1v1.1h-1zM156.1 131.0h1v1.1h-1zM150.0 134.4h1v1.1h-1zM153.5 144.6h1v1.1h-1zM151.9 96.8h1v1.1h-1zM147.6 109.0h1v1.1h-1zM145.1 145.8h1v1.1h-1zM149.7 118.3h1v1.1h-1zM153.1 153.5h1v1.1h-1zM151.8 97.8h1v1.1h-1zM144.3 137.2h1v1.1h-1zM147.8 93.1h1v1.1h-1zM152.8 136.7h1v1.1h-1zM145.7 149.4h1v1.1h-1zM144.1 106.0h1v1.1h-1zM153.3 82.0h1v1.1h-1zM151.7 90.4h1v1.1h-1zM150.1 129.1h1v1.1h-1zM154.4 146.0h1v1.1h-1zM144.8 120.4h1v1.1h-1zM146.0 157.2h1v1.1h-1zM144.7 105.8h1v1.1h-1zM151.4 85.5h1v1.1h-1zM144.1 149.3h1v1.1h-1zM151.6 156.1h1v1.1h-1zM150.2 153.4h1v1.1h-1zM145.3 91.8h1v1.1h-1zM158.1 85.0h1v1.1h-1zM145.3 93.1h1v1.1h-1zM147.5 130.1h1v1.1h-1zM147.5 89.4h1v1.1h-1zM151.2 106.6h1v1.1h-1zM153.8 90.7h1v1.1h-1zM142.8 154.8h1v1.1h-1zM150.1 136.0h1v1.1h-1zM150.2 146.0h1v1.1h-1zM143.6 144.8h1v1.1h-1zM154.4 112.0h1v1.1h-1zM147.9 129.7h1v1.1h-1zM151.9 103.8h1v1.1h-1zM152.5 125.4h1v1.1h-1zM145.1 101.1h1v1.1h-1zM147.8 106.6h1v1.1h-1zM149.9 104.5h1v1.1h-1zM150.1 141.5h1v1.1h-1zM147.8 125.9h1v1.1h-1zM148.5 126.4h1v1.1h-1zM150.7 120.7h1v1.1h-1zM144.9 151.8h1v1.1h-1zM152.2 130.8h1v1.1h-1zM151.6 149.9h1v1.1h-1zM151.4 113.9h1v1.1h-1zM150.0 94.0h1v1.1h-1zM153.4 117.7h1v1.1h-1zM151.8 161.3h1v1.1h-1zM150.1 124.4h1v1.1h-1zM151.2 151.1h1v1.1h-1zM153.5 86.5h1v1.1h-1zM154.4 121.6h1v1.1h-1zM151.6 130.0h1v1.1h-1zM149.0 110.0h1v1.1h-1zM153.2 155.1h1v1.1h-1zM148.3 154.0h1v1.1h-1zM151.8 110.6h1v1.1h-1zM146.0 139.1h1v1.1h-1zM146.3 93.6h1v1.1h-1zM143.6 156.9h1v1.1h-1zM152.8 93.8h1v1.1h-1zM152.2 90.4h1v1.1h-1zM151.7 119.2h1v1.1h-1zM151.5 100.2h1v1.1h-1zM148.7 138.9h1v1.1h-1zM149.2 134.0h1v1.1h-1zM151.7 114.1h1v1.1h-1zM144.0 82.2h1v1.1h-1zM150.4 85.5h1v1.1h-1zM147.7 110.0h1v1.1h-1zM150.3 80.2h1v1.1h-1zM147.8 111.8h1v1.1h-1zM140.5 131.2h1v1.1h-1zM150.4 155.2h1v1.1h-1zM152.4 96.3h1v1.1h-1zM148.5 85.8h1v1.1h-1zM157.9 100.4h1v1.1h-1zM151.8 102.5h1v1.1h-1z"/><path fill="#0a3069" opacity="0.48" d="M149.4 82.4h1v1.1h-1zM150.3 85.8h1v1.1h-1zM153.0 147.0h1v1.1h-1zM154.3 135.2h1v1.1h-1zM145.9 108.4h1v1.1h-1zM152.8 81.5h1v1.1h-1zM150.2 105.8h1v1.1h-1zM156.2 134.2h1v1.1h-1zM147.9 91.8h1v1.1h-1zM148.7 109.5h1v1.1h-1zM148.4 126.0h1v1.1h-1zM155.3 137.4h1v1.1h-1zM148.7 84.0h1v1.1h-1zM157.1 131.1h1v1.1h-1zM152.7 92.7h1v1.1h-1zM151.6 132.2h1v1.1h-1zM152.6 151.9h1v1.1h-1zM146.6 146.8h1v1.1h-1zM151.1 91.0h1v1.1h-1zM148.6 114.3h1v1.1h-1zM145.2 113.3h1v1.1h-1zM151.0 98.0h1v1.1h-1zM145.2 117.1h1v1.1h-1zM149.2 156.2h1v1.1h-1zM153.1 87.1h1v1.1h-1zM146.2 121.2h1v1.1h-1zM151.0 127.8h1v1.1h-1zM146.7 154.8h1v1.1h-1zM148.8 112.8h1v1.1h-1zM151.9 128.6h1v1.1h-1zM148.0 107.6h1v1.1h-1zM152.7 116.2h1v1.1h-1zM153.9 141.2h1v1.1h-1zM151.2 116.0h1v1.1h-1zM149.7 113.2h1v1.1h-1z"/><path fill="#f2f7fc" opacity="0.75" d="M214.1 56.3h1v1.1h-1zM212.6 89.4h1v1.1h-1zM209.9 69.1h1v1.1h-1zM212.5 58.0h1v1.1h-1zM208.1 67.2h1v1.1h-1zM209.5 67.4h1v1.1h-1zM210.1 51.2h1v1.1h-1zM209.4 51.0h1v1.1h-1zM212.3 50.5h1v1.1h-1zM214.0 52.1h1v1.1h-1zM213.1 47.0h1v1.1h-1zM209.1 72.1h1v1.1h-1zM209.2 69.7h1v1.1h-1zM214.8 36.3h1v1.1h-1zM205.6 62.7h1v1.1h-1zM213.7 32.6h1v1.1h-1zM215.0 48.2h1v1.1h-1zM216.6 55.0h1v1.1h-1zM216.4 71.4h1v1.1h-1zM212.6 70.9h1v1.1h-1zM214.6 75.0h1v1.1h-1zM206.9 75.9h1v1.1h-1zM218.7 41.2h1v1.1h-1zM219.4 40.0h1v1.1h-1zM210.2 43.8h1v1.1h-1zM211.4 55.4h1v1.1h-1zM212.5 80.4h1v1.1h-1zM211.8 35.1h1v1.1h-1zM218.4 45.0h1v1.1h-1zM213.4 59.6h1v1.1h-1zM209.7 45.5h1v1.1h-1zM212.8 65.5h1v1.1h-1zM216.0 65.4h1v1.1h-1zM212.7 50.2h1v1.1h-1zM207.8 45.1h1v1.1h-1zM212.8 45.3h1v1.1h-1zM217.9 63.8h1v1.1h-1zM209.2 80.4h1v1.1h-1zM207.6 55.9h1v1.1h-1zM219.8 41.6h1v1.1h-1zM215.9 72.5h1v1.1h-1zM200.9 75.8h1v1.1h-1zM217.5 33.4h1v1.1h-1zM220.0 66.3h1v1.1h-1zM209.6 73.3h1v1.1h-1zM211.2 69.0h1v1.1h-1zM206.2 57.1h1v1.1h-1zM213.3 43.7h1v1.1h-1zM214.0 56.7h1v1.1h-1zM212.8 59.6h1v1.1h-1zM213.8 52.1h1v1.1h-1zM210.6 32.1h1v1.1h-1zM201.7 77.9h1v1.1h-1zM204.2 83.2h1v1.1h-1zM204.3 73.5h1v1.1h-1zM208.5 53.1h1v1.1h-1zM210.2 55.6h1v1.1h-1zM221.8 39.9h1v1.1h-1zM215.0 59.1h1v1.1h-1zM212.6 54.1h1v1.1h-1zM209.3 66.7h1v1.1h-1zM211.4 45.6h1v1.1h-1zM217.7 50.5h1v1.1h-1zM213.0 83.8h1v1.1h-1zM216.8 37.3h1v1.1h-1zM203.1 82.2h1v1.1h-1zM208.3 62.8h1v1.1h-1zM210.6 90.0h1v1.1h-1zM210.4 61.3h1v1.1h-1zM206.3 51.8h1v1.1h-1zM212.0 45.0h1v1.1h-1zM216.3 48.4h1v1.1h-1zM209.3 75.5h1v1.1h-1zM222.9 30.5h1v1.1h-1zM208.6 60.7h1v1.1h-1zM215.9 63.0h1v1.1h-1zM209.9 68.1h1v1.1h-1zM208.7 48.1h1v1.1h-1zM209.7 40.7h1v1.1h-1zM207.6 64.9h1v1.1h-1zM213.0 79.8h1v1.1h-1zM208.5 55.0h1v1.1h-1zM202.1 79.3h1v1.1h-1zM211.5 48.7h1v1.1h-1zM210.5 71.2h1v1.1h-1zM207.7 94.4h1v1.1h-1zM211.5 75.5h1v1.1h-1zM221.0 68.1h1v1.1h-1zM216.9 76.7h1v1.1h-1zM219.1 40.7h1v1.1h-1zM213.9 43.9h1v1.1h-1zM202.2 77.2h1v1.1h-1zM211.0 63.9h1v1.1h-1zM205.5 78.4h1v1.1h-1zM212.5 58.7h1v1.1h-1zM202.9 94.3h1v1.1h-1zM213.1 64.6h1v1.1h-1zM205.9 60.3h1v1.1h-1zM211.1 53.4h1v1.1h-1zM200.0 94.4h1v1.1h-1zM205.4 99.0h1v1.1h-1zM212.9 58.5h1v1.1h-1zM202.1 74.4h1v1.1h-1zM213.5 47.1h1v1.1h-1zM214.4 42.4h1v1.1h-1zM205.8 36.7h1v1.1h-1zM207.4 71.0h1v1.1h-1zM213.0 72.5h1v1.1h-1zM216.4 66.6h1v1.1h-1zM208.1 74.6h1v1.1h-1zM209.2 68.7h1v1.1h-1zM207.9 77.9h1v1.1h-1zM215.5 38.4h1v1.1h-1zM211.4 50.1h1v1.1h-1zM209.6 65.8h1v1.1h-1zM206.6 62.0h1v1.1h-1zM212.3 68.4h1v1.1h-1zM210.4 66.3h1v1.1h-1zM208.9 97.0h1v1.1h-1zM210.2 32.2h1v1.1h-1zM208.7 72.1h1v1.1h-1zM208.0 43.6h1v1.1h-1zM207.5 51.5h1v1.1h-1zM211.9 69.3h1v1.1h-1zM211.8 62.0h1v1.1h-1zM211.2 57.4h1v1.1h-1zM214.7 72.3h1v1.1h-1zM214.8 43.8h1v1.1h-1zM210.0 48.6h1v1.1h-1zM209.2 63.7h1v1.1h-1zM205.8 57.2h1v1.1h-1zM208.4 50.3h1v1.1h-1zM210.0 75.4h1v1.1h-1zM213.0 62.0h1v1.1h-1zM205.9 57.7h1v1.1h-1zM212.5 43.4h1v1.1h-1zM211.6 73.6h1v1.1h-1zM211.5 69.4h1v1.1h-1zM210.4 58.0h1v1.1h-1zM204.7 55.5h1v1.1h-1zM210.0 68.3h1v1.1h-1zM217.8 61.1h1v1.1h-1zM202.4 74.2h1v1.1h-1zM207.1 62.6h1v1.1h-1zM203.8 54.0h1v1.1h-1zM215.5 53.8h1v1.1h-1zM213.6 55.5h1v1.1h-1zM213.2 41.5h1v1.1h-1zM220.3 174.4h1v1.1h-1zM212.6 176.5h1v1.1h-1zM214.8 174.7h1v1.1h-1zM213.5 160.1h1v1.1h-1zM207.3 163.4h1v1.1h-1zM220.0 183.1h1v1.1h-1zM218.0 164.4h1v1.1h-1zM215.2 169.3h1v1.1h-1zM209.3 172.4h1v1.1h-1zM213.7 154.1h1v1.1h-1zM214.1 159.7h1v1.1h-1zM209.4 175.8h1v1.1h-1zM208.9 189.2h1v1.1h-1zM207.1 179.1h1v1.1h-1zM216.7 141.4h1v1.1h-1zM216.5 178.9h1v1.1h-1zM213.0 163.1h1v1.1h-1zM212.8 174.0h1v1.1h-1zM211.3 160.5h1v1.1h-1zM217.0 143.8h1v1.1h-1zM212.1 157.9h1v1.1h-1zM209.9 141.4h1v1.1h-1zM207.8 158.0h1v1.1h-1zM207.8 165.9h1v1.1h-1zM218.8 173.5h1v1.1h-1zM217.2 183.7h1v1.1h-1zM213.7 180.9h1v1.1h-1zM206.5 150.9h1v1.1h-1zM208.0 164.7h1v1.1h-1zM215.0 157.0h1v1.1h-1zM208.5 172.8h1v1.1h-1zM213.2 166.6h1v1.1h-1zM210.7 173.2h1v1.1h-1zM206.9 158.7h1v1.1h-1zM207.8 170.9h1v1.1h-1zM208.0 158.1h1v1.1h-1zM215.7 143.3h1v1.1h-1zM215.5 183.6h1v1.1h-1zM214.7 187.7h1v1.1h-1zM208.9 167.7h1v1.1h-1zM213.9 170.0h1v1.1h-1zM215.7 172.1h1v1.1h-1zM214.8 155.7h1v1.1h-1zM209.6 175.2h1v1.1h-1zM209.3 153.0h1v1.1h-1zM213.2 169.7h1v1.1h-1zM215.0 172.8h1v1.1h-1zM215.4 169.6h1v1.1h-1zM209.4 159.1h1v1.1h-1zM210.9 157.1h1v1.1h-1zM216.8 163.2h1v1.1h-1zM208.1 176.1h1v1.1h-1zM213.8 171.4h1v1.1h-1zM213.1 169.4h1v1.1h-1zM210.9 185.4h1v1.1h-1zM211.5 170.1h1v1.1h-1zM205.5 168.3h1v1.1h-1zM210.5 161.1h1v1.1h-1zM216.9 142.4h1v1.1h-1zM211.4 141.2h1v1.1h-1zM206.0 179.0h1v1.1h-1zM208.4 148.9h1v1.1h-1zM217.8 152.2h1v1.1h-1zM213.3 159.7h1v1.1h-1zM212.0 162.7h1v1.1h-1zM211.7 164.2h1v1.1h-1zM223.3 151.5h1v1.1h-1zM206.9 158.5h1v1.1h-1zM212.3 184.0h1v1.1h-1zM215.2 147.9h1v1.1h-1zM212.8 172.1h1v1.1h-1zM212.2 156.7h1v1.1h-1zM206.5 163.8h1v1.1h-1zM209.0 187.3h1v1.1h-1zM212.9 159.8h1v1.1h-1zM210.9 181.0h1v1.1h-1zM209.3 151.9h1v1.1h-1zM216.3 165.8h1v1.1h-1zM213.4 148.6h1v1.1h-1zM213.9 167.3h1v1.1h-1zM213.6 170.9h1v1.1h-1zM216.2 149.5h1v1.1h-1zM211.7 168.5h1v1.1h-1zM204.8 154.9h1v1.1h-1zM213.0 181.0h1v1.1h-1zM213.3 151.4h1v1.1h-1zM203.1 191.4h1v1.1h-1zM206.5 172.2h1v1.1h-1zM214.9 166.4h1v1.1h-1zM210.7 165.8h1v1.1h-1zM210.8 155.1h1v1.1h-1zM211.4 165.6h1v1.1h-1zM214.4 180.1h1v1.1h-1zM210.8 175.1h1v1.1h-1zM209.3 165.7h1v1.1h-1zM207.8 159.5h1v1.1h-1zM211.2 168.0h1v1.1h-1zM211.2 180.4h1v1.1h-1zM207.5 163.5h1v1.1h-1zM209.4 140.4h1v1.1h-1zM210.2 147.0h1v1.1h-1zM212.4 147.8h1v1.1h-1zM216.1 161.3h1v1.1h-1zM214.3 151.6h1v1.1h-1zM209.9 174.9h1v1.1h-1zM216.4 160.8h1v1.1h-1zM215.2 163.8h1v1.1h-1zM211.9 185.0h1v1.1h-1zM216.5 166.1h1v1.1h-1zM212.5 143.5h1v1.1h-1zM217.6 178.8h1v1.1h-1zM213.0 155.7h1v1.1h-1zM214.9 157.3h1v1.1h-1zM222.4 180.5h1v1.1h-1zM210.4 177.8h1v1.1h-1zM214.3 171.1h1v1.1h-1zM216.6 144.0h1v1.1h-1zM211.2 177.1h1v1.1h-1zM206.5 168.4h1v1.1h-1zM216.8 169.8h1v1.1h-1zM214.5 163.2h1v1.1h-1zM213.9 163.4h1v1.1h-1zM209.5 187.2h1v1.1h-1zM210.3 162.3h1v1.1h-1zM218.5 179.8h1v1.1h-1zM214.9 167.2h1v1.1h-1zM207.3 151.6h1v1.1h-1zM206.7 159.8h1v1.1h-1zM217.4 166.6h1v1.1h-1zM216.6 172.4h1v1.1h-1zM211.4 170.1h1v1.1h-1zM213.1 180.3h1v1.1h-1zM213.8 188.4h1v1.1h-1zM214.3 151.0h1v1.1h-1zM213.8 150.9h1v1.1h-1zM211.0 166.3h1v1.1h-1zM223.0 165.6h1v1.1h-1zM207.1 162.0h1v1.1h-1zM213.6 162.5h1v1.1h-1zM208.4 163.6h1v1.1h-1zM214.3 187.9h1v1.1h-1zM217.2 158.0h1v1.1h-1zM212.7 171.8h1v1.1h-1zM216.8 170.9h1v1.1h-1zM215.8 187.5h1v1.1h-1zM210.0 183.1h1v1.1h-1zM214.5 171.8h1v1.1h-1zM210.8 176.9h1v1.1h-1zM214.0 136.9h1v1.1h-1zM214.0 167.8h1v1.1h-1zM214.4 174.0h1v1.1h-1zM217.8 169.5h1v1.1h-1zM214.2 163.5h1v1.1h-1z"/><path fill="#0a3069" opacity="0.6" d="M214.5 59.8h1v1.1h-1zM215.7 58.4h1v1.1h-1zM213.2 64.1h1v1.1h-1zM207.8 67.0h1v1.1h-1zM212.2 65.7h1v1.1h-1zM215.5 48.0h1v1.1h-1zM211.7 83.3h1v1.1h-1zM216.0 55.5h1v1.1h-1zM210.6 61.9h1v1.1h-1zM218.6 72.0h1v1.1h-1zM203.6 89.1h1v1.1h-1zM205.4 57.1h1v1.1h-1zM206.7 67.9h1v1.1h-1zM213.6 35.7h1v1.1h-1zM214.3 76.8h1v1.1h-1zM209.7 64.3h1v1.1h-1zM206.7 59.7h1v1.1h-1zM210.0 71.5h1v1.1h-1zM214.7 59.0h1v1.1h-1zM215.5 61.5h1v1.1h-1zM207.3 58.3h1v1.1h-1zM207.7 65.7h1v1.1h-1zM209.1 79.1h1v1.1h-1zM213.1 54.8h1v1.1h-1zM207.2 64.7h1v1.1h-1zM209.9 72.6h1v1.1h-1zM214.7 59.5h1v1.1h-1zM221.5 34.1h1v1.1h-1zM205.7 57.4h1v1.1h-1zM212.3 38.3h1v1.1h-1zM212.4 38.4h1v1.1h-1zM213.0 77.6h1v1.1h-1zM216.4 56.6h1v1.1h-1zM210.6 67.7h1v1.1h-1zM211.6 34.4h1v1.1h-1zM216.7 69.8h1v1.1h-1zM215.4 85.8h1v1.1h-1zM207.0 87.8h1v1.1h-1zM208.3 84.1h1v1.1h-1zM212.9 84.3h1v1.1h-1zM208.0 37.6h1v1.1h-1zM214.2 45.2h1v1.1h-1zM202.0 79.3h1v1.1h-1zM213.4 52.6h1v1.1h-1zM209.6 67.5h1v1.1h-1zM206.6 99.0h1v1.1h-1zM201.2 56.4h1v1.1h-1zM209.4 76.3h1v1.1h-1zM217.7 40.9h1v1.1h-1zM220.1 41.8h1v1.1h-1zM207.8 57.0h1v1.1h-1zM211.6 49.0h1v1.1h-1zM210.8 66.3h1v1.1h-1zM206.5 60.2h1v1.1h-1zM208.2 58.0h1v1.1h-1zM221.4 50.8h1v1.1h-1zM209.0 75.5h1v1.1h-1zM208.9 49.2h1v1.1h-1zM210.9 54.7h1v1.1h-1zM218.4 50.9h1v1.1h-1zM202.9 81.8h1v1.1h-1zM201.3 99.7h1v1.1h-1zM210.7 36.4h1v1.1h-1zM224.1 37.9h1v1.1h-1zM208.2 75.2h1v1.1h-1zM204.7 64.4h1v1.1h-1zM208.9 70.8h1v1.1h-1zM201.7 45.3h1v1.1h-1zM211.1 74.1h1v1.1h-1zM212.8 51.8h1v1.1h-1zM208.0 49.7h1v1.1h-1zM215.0 64.2h1v1.1h-1zM212.0 65.0h1v1.1h-1zM215.0 32.5h1v1.1h-1zM216.1 69.0h1v1.1h-1zM214.4 67.0h1v1.1h-1zM210.1 41.3h1v1.1h-1zM210.1 82.5h1v1.1h-1zM203.6 82.7h1v1.1h-1zM210.8 85.2h1v1.1h-1zM205.0 62.4h1v1.1h-1zM219.6 43.3h1v1.1h-1zM209.0 56.9h1v1.1h-1zM213.2 73.9h1v1.1h-1zM214.0 45.2h1v1.1h-1zM218.7 37.4h1v1.1h-1zM203.9 71.7h1v1.1h-1zM205.4 76.3h1v1.1h-1zM211.4 95.8h1v1.1h-1zM218.6 48.1h1v1.1h-1zM203.1 69.7h1v1.1h-1zM209.5 45.1h1v1.1h-1zM205.1 94.5h1v1.1h-1zM210.7 68.2h1v1.1h-1zM211.6 30.5h1v1.1h-1zM211.9 66.9h1v1.1h-1zM214.1 46.0h1v1.1h-1zM221.1 58.9h1v1.1h-1zM215.8 54.8h1v1.1h-1zM207.3 82.9h1v1.1h-1zM213.8 85.1h1v1.1h-1zM209.1 41.5h1v1.1h-1zM210.8 63.1h1v1.1h-1zM210.4 59.6h1v1.1h-1zM209.7 66.3h1v1.1h-1zM208.8 67.7h1v1.1h-1zM209.3 59.8h1v1.1h-1zM199.7 89.5h1v1.1h-1zM211.2 70.5h1v1.1h-1zM213.8 51.3h1v1.1h-1zM218.2 68.7h1v1.1h-1zM210.6 57.2h1v1.1h-1zM209.9 87.0h1v1.1h-1zM209.1 63.9h1v1.1h-1zM209.5 53.2h1v1.1h-1zM213.4 41.3h1v1.1h-1zM207.2 60.5h1v1.1h-1zM212.2 64.8h1v1.1h-1zM208.8 76.5h1v1.1h-1zM213.3 56.1h1v1.1h-1zM220.1 71.4h1v1.1h-1zM211.8 81.6h1v1.1h-1zM214.6 53.2h1v1.1h-1zM204.2 71.7h1v1.1h-1zM219.0 47.2h1v1.1h-1zM204.6 87.2h1v1.1h-1zM211.8 68.6h1v1.1h-1zM214.9 74.4h1v1.1h-1zM206.7 54.5h1v1.1h-1zM209.4 61.8h1v1.1h-1zM203.1 71.7h1v1.1h-1zM211.2 49.8h1v1.1h-1zM203.1 99.3h1v1.1h-1zM208.0 51.1h1v1.1h-1zM213.2 55.8h1v1.1h-1zM206.0 60.0h1v1.1h-1zM212.4 65.6h1v1.1h-1zM216.8 48.6h1v1.1h-1zM215.1 169.4h1v1.1h-1zM207.6 146.1h1v1.1h-1zM209.1 150.4h1v1.1h-1zM211.8 175.8h1v1.1h-1zM212.8 157.5h1v1.1h-1zM215.5 171.7h1v1.1h-1zM210.7 163.2h1v1.1h-1zM209.1 160.5h1v1.1h-1zM209.1 163.5h1v1.1h-1zM211.6 163.5h1v1.1h-1zM212.0 154.8h1v1.1h-1zM210.5 185.8h1v1.1h-1zM202.5 153.3h1v1.1h-1zM210.7 180.1h1v1.1h-1zM212.7 168.2h1v1.1h-1zM211.4 176.6h1v1.1h-1zM209.1 162.8h1v1.1h-1zM205.7 154.8h1v1.1h-1zM212.0 172.7h1v1.1h-1zM211.9 161.2h1v1.1h-1zM215.4 138.6h1v1.1h-1zM217.3 174.8h1v1.1h-1zM217.4 169.2h1v1.1h-1zM210.0 185.5h1v1.1h-1zM206.1 165.1h1v1.1h-1zM214.8 152.3h1v1.1h-1zM216.2 159.9h1v1.1h-1zM217.5 163.1h1v1.1h-1zM211.4 151.6h1v1.1h-1zM215.9 178.4h1v1.1h-1zM218.1 173.1h1v1.1h-1zM216.9 182.9h1v1.1h-1zM213.2 151.4h1v1.1h-1zM209.1 182.9h1v1.1h-1zM213.5 158.9h1v1.1h-1zM212.5 170.3h1v1.1h-1zM219.7 158.2h1v1.1h-1zM213.4 150.0h1v1.1h-1zM214.3 182.7h1v1.1h-1zM207.9 169.6h1v1.1h-1zM217.0 188.2h1v1.1h-1zM213.3 164.5h1v1.1h-1zM209.9 148.0h1v1.1h-1zM216.5 168.0h1v1.1h-1zM210.6 158.8h1v1.1h-1zM214.1 158.0h1v1.1h-1zM219.2 166.9h1v1.1h-1zM212.7 175.4h1v1.1h-1zM210.2 176.2h1v1.1h-1zM216.3 175.7h1v1.1h-1zM215.6 170.5h1v1.1h-1zM211.1 162.5h1v1.1h-1zM207.0 149.3h1v1.1h-1zM208.7 142.3h1v1.1h-1zM213.4 151.1h1v1.1h-1zM208.6 163.7h1v1.1h-1zM213.4 173.6h1v1.1h-1zM212.5 164.9h1v1.1h-1zM211.0 145.0h1v1.1h-1zM210.8 160.9h1v1.1h-1zM214.8 184.0h1v1.1h-1zM214.6 148.8h1v1.1h-1zM208.0 170.5h1v1.1h-1zM212.8 188.1h1v1.1h-1zM214.8 159.8h1v1.1h-1zM214.0 160.6h1v1.1h-1zM216.5 172.3h1v1.1h-1zM214.6 167.5h1v1.1h-1zM218.3 163.8h1v1.1h-1zM217.7 152.2h1v1.1h-1zM213.7 155.8h1v1.1h-1zM215.2 156.9h1v1.1h-1zM210.9 149.6h1v1.1h-1zM206.3 148.3h1v1.1h-1zM219.1 157.9h1v1.1h-1zM208.8 166.0h1v1.1h-1zM211.7 176.9h1v1.1h-1zM204.6 158.1h1v1.1h-1zM209.3 182.3h1v1.1h-1zM210.2 145.1h1v1.1h-1zM212.0 161.3h1v1.1h-1zM218.9 162.3h1v1.1h-1zM209.7 166.2h1v1.1h-1zM206.1 150.8h1v1.1h-1zM207.9 172.1h1v1.1h-1zM217.2 170.7h1v1.1h-1zM220.4 179.3h1v1.1h-1zM215.6 152.4h1v1.1h-1zM211.9 165.1h1v1.1h-1zM213.3 152.2h1v1.1h-1zM216.9 163.1h1v1.1h-1zM207.3 179.8h1v1.1h-1zM208.2 161.0h1v1.1h-1zM215.3 159.5h1v1.1h-1zM210.5 161.5h1v1.1h-1zM209.4 175.6h1v1.1h-1zM216.7 148.2h1v1.1h-1zM209.8 169.2h1v1.1h-1zM216.4 185.2h1v1.1h-1zM208.9 173.4h1v1.1h-1zM209.9 143.4h1v1.1h-1zM206.5 148.6h1v1.1h-1zM217.5 168.3h1v1.1h-1zM214.6 146.4h1v1.1h-1zM216.4 184.7h1v1.1h-1zM214.8 159.9h1v1.1h-1zM212.4 139.4h1v1.1h-1zM213.4 147.1h1v1.1h-1zM214.0 162.1h1v1.1h-1zM213.2 182.4h1v1.1h-1zM212.2 181.5h1v1.1h-1zM212.3 157.5h1v1.1h-1zM214.2 169.6h1v1.1h-1zM213.8 156.2h1v1.1h-1zM222.4 165.8h1v1.1h-1zM205.8 169.6h1v1.1h-1zM220.6 165.5h1v1.1h-1zM213.2 161.2h1v1.1h-1zM211.7 159.7h1v1.1h-1zM217.7 163.5h1v1.1h-1zM207.6 138.5h1v1.1h-1zM203.8 145.7h1v1.1h-1zM206.5 179.2h1v1.1h-1zM212.8 159.7h1v1.1h-1zM216.7 172.3h1v1.1h-1zM220.3 175.4h1v1.1h-1zM214.7 152.1h1v1.1h-1zM216.9 168.0h1v1.1h-1zM210.5 179.9h1v1.1h-1zM214.8 173.1h1v1.1h-1zM211.3 162.9h1v1.1h-1zM206.4 165.7h1v1.1h-1zM213.7 166.2h1v1.1h-1zM201.8 155.0h1v1.1h-1zM216.2 160.8h1v1.1h-1zM217.5 180.9h1v1.1h-1zM209.7 174.7h1v1.1h-1zM212.5 155.8h1v1.1h-1zM201.8 187.4h1v1.1h-1zM212.7 130.2h1v1.1h-1zM213.7 174.1h1v1.1h-1zM213.4 159.7h1v1.1h-1zM217.4 154.8h1v1.1h-1zM206.3 158.0h1v1.1h-1zM211.7 152.1h1v1.1h-1zM212.9 155.5h1v1.1h-1zM211.8 153.2h1v1.1h-1zM210.8 156.5h1v1.1h-1zM212.4 152.5h1v1.1h-1zM214.6 146.6h1v1.1h-1zM206.8 162.4h1v1.1h-1zM214.0 174.9h1v1.1h-1zM213.1 168.5h1v1.1h-1zM205.0 184.9h1v1.1h-1zM206.4 163.9h1v1.1h-1zM213.2 180.0h1v1.1h-1zM211.1 161.5h1v1.1h-1zM210.6 167.3h1v1.1h-1zM213.4 167.6h1v1.1h-1zM218.0 154.8h1v1.1h-1zM221.8 164.5h1v1.1h-1zM214.1 164.6h1v1.1h-1zM213.6 169.7h1v1.1h-1z"/><path fill="#f2f7fc" opacity="0.45" d="M214.4 116.9h1v1.1h-1zM209.6 100.4h1v1.1h-1zM185.4 108.9h1v1.1h-1zM205.8 122.3h1v1.1h-1zM214.1 117.1h1v1.1h-1zM206.1 119.4h1v1.1h-1zM218.7 131.9h1v1.1h-1zM212.0 127.6h1v1.1h-1zM214.8 112.8h1v1.1h-1zM200.5 133.7h1v1.1h-1zM211.0 126.5h1v1.1h-1zM200.4 95.9h1v1.1h-1zM201.7 104.5h1v1.1h-1zM206.5 127.4h1v1.1h-1zM217.9 98.6h1v1.1h-1zM215.8 118.6h1v1.1h-1zM224.9 101.7h1v1.1h-1zM206.9 113.6h1v1.1h-1zM206.5 122.3h1v1.1h-1zM202.0 98.5h1v1.1h-1zM216.8 121.4h1v1.1h-1zM202.6 114.6h1v1.1h-1zM225.4 107.4h1v1.1h-1zM203.4 124.2h1v1.1h-1zM197.8 113.6h1v1.1h-1zM201.1 133.0h1v1.1h-1zM208.6 109.9h1v1.1h-1zM217.8 117.4h1v1.1h-1zM188.0 110.9h1v1.1h-1zM202.2 120.6h1v1.1h-1zM201.6 124.2h1v1.1h-1zM210.0 101.8h1v1.1h-1zM196.0 127.8h1v1.1h-1zM219.8 100.9h1v1.1h-1zM203.7 114.7h1v1.1h-1zM200.3 122.7h1v1.1h-1zM199.3 121.6h1v1.1h-1zM213.3 100.5h1v1.1h-1zM208.3 109.9h1v1.1h-1zM198.3 123.8h1v1.1h-1zM197.3 118.8h1v1.1h-1zM211.3 102.8h1v1.1h-1zM213.5 109.8h1v1.1h-1zM202.6 103.2h1v1.1h-1zM179.3 137.8h1v1.1h-1zM179.2 146.9h1v1.1h-1zM179.4 84.2h1v1.1h-1zM179.1 185.1h1v1.1h-1zM179.1 130.3h1v1.1h-1zM179.3 91.4h1v1.1h-1zM179.5 95.4h1v1.1h-1zM179.3 177.0h1v1.1h-1zM178.6 116.6h1v1.1h-1zM179.0 188.5h1v1.1h-1zM179.4 92.2h1v1.1h-1zM179.8 124.9h1v1.1h-1zM179.2 93.9h1v1.1h-1zM179.0 178.5h1v1.1h-1zM179.0 195.0h1v1.1h-1zM179.2 144.1h1v1.1h-1zM179.1 81.8h1v1.1h-1zM178.9 136.3h1v1.1h-1zM179.4 97.0h1v1.1h-1zM179.6 108.2h1v1.1h-1zM180.0 203.5h1v1.1h-1zM179.5 78.6h1v1.1h-1zM179.5 142.0h1v1.1h-1zM178.8 121.6h1v1.1h-1zM178.2 174.3h1v1.1h-1zM178.3 197.2h1v1.1h-1zM179.7 76.1h1v1.1h-1zM179.3 124.4h1v1.1h-1zM179.3 193.7h1v1.1h-1zM179.2 149.7h1v1.1h-1z"/><path fill="#0a3069" opacity="0.36" d="M205.0 108.2h1v1.1h-1zM192.2 113.0h1v1.1h-1zM193.1 104.2h1v1.1h-1zM210.7 119.6h1v1.1h-1zM200.4 129.7h1v1.1h-1zM213.3 133.6h1v1.1h-1zM208.4 123.1h1v1.1h-1zM207.2 121.5h1v1.1h-1zM214.4 126.5h1v1.1h-1zM208.6 127.3h1v1.1h-1zM194.0 134.5h1v1.1h-1zM212.7 98.0h1v1.1h-1zM210.2 100.7h1v1.1h-1zM218.6 125.2h1v1.1h-1zM184.3 133.2h1v1.1h-1zM215.7 112.7h1v1.1h-1zM213.2 123.5h1v1.1h-1zM204.0 124.7h1v1.1h-1zM215.9 117.9h1v1.1h-1zM197.1 110.8h1v1.1h-1zM203.1 126.6h1v1.1h-1zM201.7 104.7h1v1.1h-1zM196.7 133.6h1v1.1h-1zM210.7 105.7h1v1.1h-1zM209.5 113.8h1v1.1h-1zM196.2 118.1h1v1.1h-1zM193.3 121.8h1v1.1h-1zM210.1 101.5h1v1.1h-1zM215.9 118.3h1v1.1h-1zM194.0 99.0h1v1.1h-1zM199.3 130.8h1v1.1h-1zM195.6 121.5h1v1.1h-1zM199.8 119.4h1v1.1h-1zM219.5 117.2h1v1.1h-1zM209.3 120.4h1v1.1h-1zM200.4 111.9h1v1.1h-1zM201.9 97.2h1v1.1h-1zM211.7 115.6h1v1.1h-1zM204.3 109.8h1v1.1h-1zM212.1 104.8h1v1.1h-1zM205.9 106.2h1v1.1h-1zM193.9 122.3h1v1.1h-1zM212.8 95.2h1v1.1h-1zM206.8 96.8h1v1.1h-1zM211.8 119.0h1v1.1h-1zM214.6 108.2h1v1.1h-1zM179.9 184.4h1v1.1h-1zM179.2 123.4h1v1.1h-1zM179.3 191.1h1v1.1h-1zM179.5 109.4h1v1.1h-1zM179.0 86.4h1v1.1h-1zM179.3 154.8h1v1.1h-1zM178.4 160.5h1v1.1h-1zM179.1 79.5h1v1.1h-1zM179.0 167.4h1v1.1h-1zM179.0 117.6h1v1.1h-1zM179.0 76.9h1v1.1h-1zM178.9 81.4h1v1.1h-1zM179.3 135.3h1v1.1h-1zM179.4 185.7h1v1.1h-1zM179.1 141.1h1v1.1h-1zM179.7 178.1h1v1.1h-1zM179.2 83.5h1v1.1h-1zM178.6 98.3h1v1.1h-1zM179.2 141.0h1v1.1h-1zM179.2 115.6h1v1.1h-1z"/><path fill="#f2f7fc" opacity="0.675" d="M179.7 58.5h1v1.1h-1zM179.3 65.2h1v1.1h-1zM179.0 48.5h1v1.1h-1zM179.4 60.9h1v1.1h-1zM178.8 55.2h1v1.1h-1zM179.2 69.4h1v1.1h-1zM179.2 74.6h1v1.1h-1zM178.7 64.7h1v1.1h-1zM179.0 49.2h1v1.1h-1zM179.2 55.0h1v1.1h-1zM179.6 48.6h1v1.1h-1zM179.4 68.9h1v1.1h-1zM179.4 68.1h1v1.1h-1zM178.6 67.7h1v1.1h-1zM179.2 63.6h1v1.1h-1zM179.0 73.7h1v1.1h-1zM178.6 57.8h1v1.1h-1zM179.2 67.3h1v1.1h-1zM179.1 55.8h1v1.1h-1zM179.1 49.9h1v1.1h-1zM179.6 65.0h1v1.1h-1zM179.2 57.2h1v1.1h-1zM179.4 63.6h1v1.1h-1zM178.8 74.1h1v1.1h-1zM179.3 60.4h1v1.1h-1zM179.5 53.1h1v1.1h-1z"/><path fill="#0a3069" opacity="0.54" d="M179.1 52.2h1v1.1h-1zM179.1 55.3h1v1.1h-1zM179.2 73.1h1v1.1h-1zM179.7 54.6h1v1.1h-1z"/></g><rect x="67" y="9.5" width="246" height="209.2" fill="none" stroke="#000" stroke-width="1.7"/><path d="M179.2 9.5V21" stroke="#000" stroke-width="1.5"/><path d="M176.8 19.6L181.6 19.6L179.2 27.5z" fill="#000"/><path d="M179.2 219V207" stroke="#000" stroke-width="1.5"/><path d="M176.8 208.6L181.6 208.6L179.2 200.8z" fill="#000"/><rect x="271.9" y="14.2" width="11.7" height="22.1" fill="#b65ad2" stroke="#222" stroke-width="0.7"/><rect x="283.6" y="14.2" width="11" height="22.1" fill="#e2291d" stroke="#222" stroke-width="0.7"/><rect x="294.6" y="14.2" width="11.3" height="22.1" fill="#b65ad2" stroke="#222" stroke-width="0.7"/><g style="font-family:'Liberation Serif',serif;font-size:20px" fill="#111" stroke-width="0.12"><text x="274.1" y="31.7" textLength="7.6" lengthAdjust="spacingAndGlyphs" stroke="#b65ad2">S</text><text x="286.3" y="31.7" textLength="6.2" lengthAdjust="spacingAndGlyphs" stroke="#e2291d">J</text><text x="296.6" y="31.7" textLength="7.6" lengthAdjust="spacingAndGlyphs" stroke="#b65ad2">S</text></g><text x="229.0" y="209.8" textLength="78.5" lengthAdjust="spacingAndGlyphs" style="font-family:'Liberation Serif',serif;font-size:17px" fill="#111"><tspan font-style="italic">T</tspan>=100 mK</text><text x="58.1" y="15.6" text-anchor="end" style="font-family:'Liberation Serif',serif;font-size:17.5px" fill="#111" stroke="#fff" stroke-width="0.18">10</text><text x="58.1" y="67.9" text-anchor="end" style="font-family:'Liberation Serif',serif;font-size:17.5px" fill="#111" stroke="#fff" stroke-width="0.18">5</text><text x="58.1" y="120.2" text-anchor="end" style="font-family:'Liberation Serif',serif;font-size:17.5px" fill="#111" stroke="#fff" stroke-width="0.18">0</text><text x="58.1" y="172.5" text-anchor="end" style="font-family:'Liberation Serif',serif;font-size:17.5px" fill="#111" textLength="20.8" lengthAdjust="spacingAndGlyphs" stroke="#fff" stroke-width="0.18">−5</text><text x="58.1" y="224.8" text-anchor="end" style="font-family:'Liberation Serif',serif;font-size:17.5px" fill="#111" textLength="28.3" lengthAdjust="spacingAndGlyphs" stroke="#fff" stroke-width="0.18">−10</text><text x="72.8" y="240.2" text-anchor="middle" style="font-family:'Liberation Serif',serif;font-size:17.5px" fill="#111" stroke="#fff" stroke-width="0.18">0</text><text x="179.4" y="240.2" text-anchor="middle" style="font-family:'Liberation Serif',serif;font-size:17.5px" fill="#111" stroke="#fff" stroke-width="0.18">2</text><text x="286.0" y="240.2" text-anchor="middle" style="font-family:'Liberation Serif',serif;font-size:17.5px" fill="#111" stroke="#fff" stroke-width="0.18">4</text><path d="M61.2 9.5H67M61.2 61.8H67M61.2 114.1H67M61.2 166.4H67M61.2 218.7H67M72.8 219V224.7M179.4 219V224.7M286 219V224.7" stroke="#000" stroke-width="1.7"/><text x="155.3" y="264.6" textLength="69.4" lengthAdjust="spacingAndGlyphs" style="font-family:'Liberation Serif',serif;font-size:24px" fill="#111" stroke="#fff" stroke-width="0.3"><tspan font-style="italic">B</tspan> (mT)</text><text transform="translate(19.4 143.7) rotate(-90)" textLength="59.9" lengthAdjust="spacingAndGlyphs" style="font-family:'Liberation Serif',serif;font-size:24px" fill="#111" stroke="#fff" stroke-width="0.3"><tspan font-style="italic">I</tspan> (nA)</text><text x="-0.5" y="16.3" style="font-family:'Liberation Sans',sans-serif;font-size:22px;font-weight:bold" fill="#111">a</text><rect x="318.8" y="9.5" width="5.2" height="209.5" fill="url(#cb)" stroke="#000" stroke-width="1.2"/><text x="333.2" y="15.6" style="font-family:'Liberation Serif',serif;font-size:17.5px" fill="#111" stroke="#fff" stroke-width="0.18">1.3</text><text x="333.2" y="63.9" style="font-family:'Liberation Serif',serif;font-size:17.5px" fill="#111" stroke="#fff" stroke-width="0.18">1</text><text x="333.2" y="225.1" style="font-family:'Liberation Serif',serif;font-size:17.5px" fill="#111" stroke="#fff" stroke-width="0.18">0</text><path d="M323.4 9.5H329.6M323.4 57.8462H329.6M323.4 219H329.6" stroke="#000" stroke-width="1.7"/><text transform="translate(371.8 144.8) rotate(-90)" textLength="63.6" lengthAdjust="spacingAndGlyphs" style="font-family:'Liberation Serif',serif;font-size:24px" fill="#111" stroke="#fff" stroke-width="0.3"><tspan font-style="italic">R</tspan> (kΩ)</text><path d="M444.8 223.6H670" stroke="#c4c4c4" stroke-width="1.1"/><path d="M562 13.1V228.9" stroke="#000" stroke-width="1.9" stroke-dasharray="1.9 3.48"/><clipPath id="cbp"><rect x="444.8" y="9.8" width="225.2" height="219.1"/></clipPath><polyline clip-path="url(#cbp)" points="444.6,222.3 445.2,221.5 447.5,219.7 450.4,217.4 453.4,216.2 456.3,215 459.2,212.1 461.5,211.2 464.5,209.8 468,206.8 471.5,205.4 475,203.3 479.1,201 482.6,198.1 485.5,197.5 488.4,194.6 492,191.3 495.5,188.7 499,187 502.5,183.8 503.4,183.4 506.4,195.2 508.8,195.2 512,193.3 515.2,174.5 520.7,171.3 524.7,167.8 530.3,163.3 535.1,158.5 538.3,156.9 541.5,153.4 544.7,151.8 547.9,148.1 552.7,143.8 555,141.8 558,139.3 561.8,135.7 564.7,133.8 568,146.6 571,126.1 576.2,121.3 580,117.1 583.9,114.6 588.3,108.9 591.5,117.1 594.4,113.7 597.3,100.6 600.6,104.7 603.6,101.2 605.9,91.1 608.8,88.8 611.7,84.5 615.3,79.2 619,73.3 623,68.5 626.2,68 629.4,62.1 633.4,58.5 637.3,53.7 641.3,48.9 644.5,43.3 647.7,40.1 650.9,35.3 653.3,31.8 656.2,30.5 658.9,25.7 664.5,18.6 670,11.1 671,9.8" fill="none" stroke="#0000ff" stroke-width="2.4" stroke-linejoin="round"/><rect x="444.8" y="9.8" width="225.2" height="219.1" fill="none" stroke="#000" stroke-width="1.7"/><text x="435.6" y="229.7" text-anchor="end" style="font-family:'Liberation Serif',serif;font-size:17.5px" fill="#111" stroke="#fff" stroke-width="0.18">0</text><text x="435.6" y="176.2" text-anchor="end" style="font-family:'Liberation Serif',serif;font-size:17.5px" fill="#111" stroke="#fff" stroke-width="0.18">1</text><text x="435.6" y="122.8" text-anchor="end" style="font-family:'Liberation Serif',serif;font-size:17.5px" fill="#111" stroke="#fff" stroke-width="0.18">2</text><text x="435.6" y="69.3" text-anchor="end" style="font-family:'Liberation Serif',serif;font-size:17.5px" fill="#111" stroke="#fff" stroke-width="0.18">3</text><text x="435.6" y="15.9" text-anchor="end" style="font-family:'Liberation Serif',serif;font-size:17.5px" fill="#111" stroke="#fff" stroke-width="0.18">4</text><text x="444.8" y="251.0" text-anchor="middle" style="font-family:'Liberation Serif',serif;font-size:17.5px" fill="#111" stroke="#fff" stroke-width="0.18">0</text><text x="503.3" y="251.0" text-anchor="middle" style="font-family:'Liberation Serif',serif;font-size:17.5px" fill="#111" stroke="#fff" stroke-width="0.18">2</text><text x="561.8" y="251.0" text-anchor="middle" style="font-family:'Liberation Serif',serif;font-size:17.5px" fill="#111" stroke="#fff" stroke-width="0.18">4</text><text x="620.3" y="251.0" text-anchor="middle" style="font-family:'Liberation Serif',serif;font-size:17.5px" fill="#111" stroke="#fff" stroke-width="0.18">6</text><path d="M439.2 223.6H444.8M439.2 170.15H444.8M439.2 116.7H444.8M439.2 63.25H444.8M439.2 9.8H444.8M444.8 228.9V234.6M503.3 228.9V234.6M561.8 228.9V234.6M620.3 228.9V234.6" stroke="#000" stroke-width="1.7"/><path d="M459.9 33.7H499" stroke="#0000ff" stroke-width="2.3"/><text x="512.4" y="40.4" textLength="37.4" lengthAdjust="spacingAndGlyphs" style="font-family:'Liberation Serif',serif;font-size:17px" fill="#111" stroke="#fff" stroke-width="0.18">2 mT</text><text x="527.2" y="276.9" textLength="60.5" lengthAdjust="spacingAndGlyphs" style="font-family:'Liberation Serif',serif;font-size:24px" fill="#111" stroke="#fff" stroke-width="0.3"><tspan font-style="italic">I</tspan> (nA)</text><text transform="translate(417.0 152.0) rotate(-90)" textLength="69.4" lengthAdjust="spacingAndGlyphs" style="font-family:'Liberation Serif',serif;font-size:24px" fill="#111" stroke="#fff" stroke-width="0.3"><tspan font-style="italic">V</tspan> (μV)</text><text x="399.2" y="16.3" style="font-family:'Liberation Sans',sans-serif;font-size:22px;font-weight:bold" fill="#111">b</text><clipPath id="ccp"><rect x="63" y="307.2" width="285.4" height="107"/></clipPath><path clip-path="url(#ccp)" fill="none" stroke="#0000ff" stroke-width="0.9" d="M63.0 326.3V348.8M63.5 323.6V348.6M64.0 324.1V343.0M64.5 321.9V345.6M65.0 321.9V353.6M65.5 331.7V346.9M66.0 326.5V344.1M66.5 322.9V346.8M67.0 324.6V350.5M67.5 324.6V349.5M68.0 327.1V350.4M68.5 329.3V350.1M69.0 323.0V350.8M69.5 327.6V344.9M70.0 319.6V350.8M70.5 328.8V355.0M71.0 321.2V350.4M71.5 328.6V349.7M72.0 320.8V355.4M72.5 319.6V344.7M73.0 324.3V346.7M73.5 333.7V346.7M74.0 323.3V349.5M74.5 319.8V346.2M75.0 325.0V344.8M75.5 327.6V351.7M76.0 318.4V351.2M76.5 326.3V349.7M77.0 324.8V350.3M77.5 324.0V339.6M78.0 318.0V347.2M78.5 325.6V347.2M79.0 328.6V349.0M79.5 324.8V349.8M80.0 332.7V347.5M80.5 323.9V346.3M81.0 324.6V351.2M81.5 327.3V346.6M82.0 328.6V350.0M82.5 324.7V349.5M83.0 324.4V346.7M83.5 316.8V351.2M84.0 316.8V347.8M84.5 321.7V351.0M85.0 327.5V347.0M85.5 322.0V348.9M86.0 319.0V349.3M86.5 329.9V400.2M87.0 371.7V400.2M87.5 327.1V387.8M88.0 324.8V351.2M88.5 320.9V353.7M89.0 325.5V351.4M89.5 322.0V356.9M90.0 324.5V349.6M90.5 321.5V349.3M91.0 325.4V348.2M91.5 321.7V342.9M92.0 325.9V349.9M92.5 325.9V345.7M93.0 328.9V349.4M93.5 328.2V351.5M94.0 328.1V350.1M94.5 321.8V345.0M95.0 317.8V346.3M95.5 324.8V349.5M96.0 347.2V408.7M96.5 380.4V408.7M97.0 379.4V405.6M97.5 374.8V395.8M98.0 374.5V402.6M98.5 376.3V405.4M99.0 372.0V408.3M99.5 377.2V396.9M100.0 374.4V401.4M100.5 380.3V400.6M101.0 374.1V402.2M101.5 370.2V402.2M102.0 376.6V404.4M102.5 375.9V399.4M103.0 330.8V390.2M103.5 318.7V347.8M104.0 330.3V345.8M104.5 322.2V350.0M105.0 322.2V348.8M105.5 329.9V347.2M106.0 331.0V346.2M106.5 322.4V347.9M107.0 326.3V344.9M107.5 329.2V353.9M108.0 322.7V349.0M108.5 322.6V348.8M109.0 327.8V345.0M109.5 324.2V351.6M110.0 331.4V350.1M110.5 324.9V348.0M111.0 324.6V350.3M111.5 324.5V347.1M112.0 326.4V350.4M112.5 324.7V348.5M113.0 317.4V345.4M113.5 326.1V350.3M114.0 324.5V340.8M114.5 329.1V347.0M115.0 325.3V344.7M115.5 326.4V347.4M116.0 326.2V341.9M116.5 322.2V353.0M117.0 323.8V346.1M117.5 326.2V349.5M118.0 330.0V349.3M118.5 319.9V347.9M119.0 326.2V346.9M119.5 323.2V353.8M120.0 322.6V346.9M120.5 322.6V350.0M121.0 322.9V351.1M121.5 326.7V351.1M122.0 324.9V345.4M122.5 331.6V350.5M123.0 322.1V351.3M123.5 322.7V348.6M124.0 320.7V347.4M124.5 319.1V350.0M125.0 319.7V347.5M125.5 320.7V347.5M126.0 322.4V351.7M126.5 320.7V355.2M127.0 323.2V353.6M127.5 323.7V345.9M128.0 323.6V343.5M128.5 323.2V351.9M129.0 321.9V345.6M129.5 321.9V342.7M130.0 322.8V348.1M130.5 329.5V349.4M131.0 329.6V344.9M131.5 319.5V355.9M132.0 321.6V350.4M132.5 326.3V347.9M133.0 326.9V346.0M133.5 328.1V350.9M134.0 326.3V353.8M134.5 328.6V345.6M135.0 324.9V344.9M135.5 328.0V352.1M136.0 328.4V350.1M136.5 323.3V350.8M137.0 322.0V349.8M137.5 321.2V348.9M138.0 325.3V346.8M138.5 322.3V348.1M139.0 324.0V348.1M139.5 322.1V350.0M140.0 322.1V350.8M140.5 318.3V347.5M141.0 332.3V353.9M141.5 328.0V347.5M142.0 322.5V344.0M142.5 317.0V346.0M143.0 323.7V345.8M143.5 323.8V347.5M144.0 327.7V350.0M144.5 324.0V347.4M145.0 324.2V354.7M145.5 318.4V354.3M146.0 323.4V349.1M146.5 332.5V347.6M147.0 318.4V351.9M147.5 324.6V343.7M148.0 337.4V399.5M148.5 381.6V407.0M149.0 375.1V407.0M149.5 379.8V399.6M150.0 372.0V395.0M150.5 370.9V398.8M151.0 373.8V398.5M151.5 371.9V403.3M152.0 374.3V398.5M152.5 379.4V403.2M153.0 377.9V401.2M153.5 375.8V405.1M154.0 375.8V396.2M154.5 378.3V407.7M155.0 377.0V401.9M155.5 372.4V395.8M156.0 326.6V395.8M156.5 319.2V350.5M157.0 321.7V346.2M157.5 321.5V350.0M158.0 322.0V348.7M158.5 323.4V351.7M159.0 322.5V346.7M159.5 324.6V343.8M160.0 321.6V351.5M160.5 323.3V351.1M161.0 320.3V351.1M161.5 314.6V347.3M162.0 324.4V347.3M162.5 323.7V347.0M163.0 324.9V352.8M163.5 326.9V353.5M164.0 326.7V350.2M164.5 322.8V346.8M165.0 327.8V344.3M165.5 324.6V349.1M166.0 324.6V343.0M166.5 324.5V357.1M167.0 322.5V345.8M167.5 317.7V351.9M168.0 317.7V357.6M168.5 326.8V348.3M169.0 325.8V342.9M169.5 319.9V346.2M170.0 320.0V354.6M170.5 325.9V346.5M171.0 322.1V346.5M171.5 328.5V342.5M172.0 334.4V352.4M172.5 329.9V351.0M173.0 319.4V351.2M173.5 323.5V351.2M174.0 322.6V356.5M174.5 332.7V393.4M175.0 380.1V402.2M175.5 374.6V393.9M176.0 377.4V404.9M176.5 376.8V402.1M177.0 379.0V403.7M177.5 377.5V400.5M178.0 378.7V401.5M178.5 369.9V401.5M179.0 377.1V397.1M179.5 372.3V397.2M180.0 381.4V400.0M180.5 383.8V403.6M181.0 380.3V403.8M181.5 373.2V398.4M182.0 376.2V401.7M182.5 374.7V397.1M183.0 382.5V403.2M183.5 376.5V396.8M184.0 381.1V397.7M184.5 379.6V402.5M185.0 371.5V401.4M185.5 376.9V398.1M186.0 372.1V400.3M186.5 379.9V402.3M187.0 384.2V399.8M187.5 384.8V398.7M188.0 372.0V399.2M188.5 379.7V402.0M189.0 378.3V404.1M189.5 324.5V404.1M190.0 324.5V348.6M190.5 326.1V345.3M191.0 328.4V349.4M191.5 320.2V349.9M192.0 326.9V349.9M192.5 316.5V349.7M193.0 328.7V349.7M193.5 323.3V349.9M194.0 325.0V349.7M194.5 325.5V346.3M195.0 325.9V348.5M195.5 325.6V346.1M196.0 324.7V345.7M196.5 316.7V347.2M197.0 322.6V354.8M197.5 324.8V352.9M198.0 320.7V341.2M198.5 327.4V348.8M199.0 318.0V349.0M199.5 321.0V348.2M200.0 322.2V350.4M200.5 327.4V344.6M201.0 324.1V350.2M201.5 325.6V350.2M202.0 316.1V351.1M202.5 321.8V343.4M203.0 322.7V351.2M203.5 319.3V352.4M204.0 325.1V347.4M204.5 329.3V350.1M205.0 325.0V354.7M205.5 321.4V354.9M206.0 327.4V349.0M206.5 316.6V350.1M207.0 324.4V351.4M207.5 328.2V350.9M208.0 325.2V350.9M208.5 326.5V353.0M209.0 327.5V349.0M209.5 328.6V348.3M210.0 321.6V347.6M210.5 326.2V348.2M211.0 327.3V350.3M211.5 326.3V345.9M212.0 327.2V343.8M212.5 327.2V347.8M213.0 326.8V353.3M213.5 326.8V351.1M214.0 327.4V343.0M214.5 321.7V352.3M215.0 336.9V406.8M215.5 378.7V395.6M216.0 382.0V400.2M216.5 376.5V403.7M217.0 324.7V391.2M217.5 327.1V347.3M218.0 320.3V346.3M218.5 320.8V346.3M219.0 325.4V350.3M219.5 331.0V350.3M220.0 316.5V350.8M220.5 316.5V355.0M221.0 326.7V347.3M221.5 319.7V349.3M222.0 332.4V349.3M222.5 335.7V406.0M223.0 374.6V396.4M223.5 372.0V401.9M224.0 373.8V407.0M224.5 377.6V397.1M225.0 381.3V407.2M225.5 376.9V407.2M226.0 375.9V402.0M226.5 328.0V390.9M227.0 326.5V355.2M227.5 321.4V345.5M228.0 325.4V349.3M228.5 325.7V349.2M229.0 330.0V356.9M229.5 328.8V345.6M230.0 328.8V350.0M230.5 325.6V350.0M231.0 324.5V346.4M231.5 324.5V400.7M232.0 375.4V399.9M232.5 374.6V396.5M233.0 379.8V399.1M233.5 373.7V399.8M234.0 370.8V396.7M234.5 327.5V391.6M235.0 327.5V349.3M235.5 322.5V345.1M236.0 323.3V345.3M236.5 325.0V346.5M237.0 317.3V346.5M237.5 325.4V351.0M238.0 325.7V351.8M238.5 322.2V348.5M239.0 327.6V344.4M239.5 329.6V350.2M240.0 323.5V353.7M240.5 325.2V348.6M241.0 315.6V346.9M241.5 322.3V350.7M242.0 329.4V352.1M242.5 322.8V341.5M243.0 326.4V347.3M243.5 346.4V397.2M244.0 376.0V399.9M244.5 375.4V400.5M245.0 378.7V403.6M245.5 379.0V400.0M246.0 372.6V403.6M246.5 372.6V402.1M247.0 375.1V401.4M247.5 367.7V409.7M248.0 373.8V399.7M248.5 382.5V401.0M249.0 370.4V400.2M249.5 384.4V400.2M250.0 371.8V403.8M250.5 379.3V404.2M251.0 379.4V409.4M251.5 374.7V409.4M252.0 373.0V399.8M252.5 324.9V394.1M253.0 322.3V347.5M253.5 323.0V347.4M254.0 325.8V347.6M254.5 326.7V346.8M255.0 324.5V349.3M255.5 316.8V349.3M256.0 318.3V349.6M256.5 321.3V348.0M257.0 330.5V405.9M257.5 378.2V403.9M258.0 383.6V407.2M258.5 373.4V401.9M259.0 375.3V398.4M259.5 377.7V402.4M260.0 377.7V399.8M260.5 375.9V399.8M261.0 381.8V408.2M261.5 377.6V402.2M262.0 378.7V402.2M262.5 379.7V401.4M263.0 372.5V401.4M263.5 380.3V403.5M264.0 371.3V402.6M264.5 375.0V400.6M265.0 374.9V394.6M265.5 377.1V400.8M266.0 322.6V390.1M266.5 323.2V347.1M267.0 319.7V346.7M267.5 320.8V352.3M268.0 331.0V354.1M268.5 319.7V346.8M269.0 321.6V350.3M269.5 323.0V350.2M270.0 323.0V354.4M270.5 321.7V349.8M271.0 321.5V357.6M271.5 319.5V347.9M272.0 320.0V353.9M272.5 325.6V346.3M273.0 324.8V349.3M273.5 320.4V349.4M274.0 336.4V403.0M274.5 322.3V381.0M275.0 323.1V349.9M275.5 325.2V350.3M276.0 324.0V346.7M276.5 324.5V350.2M277.0 322.3V347.3M277.5 323.8V348.2M278.0 325.7V348.2M278.5 323.2V340.7M279.0 325.3V342.5M279.5 321.2V340.5M280.0 324.6V354.3M280.5 321.5V354.3M281.0 324.9V348.2M281.5 325.6V345.1M282.0 323.1V351.7M282.5 325.7V347.0M283.0 316.1V346.6M283.5 329.5V345.8M284.0 328.2V347.7M284.5 322.1V350.7M285.0 323.9V349.9M285.5 327.7V345.2M286.0 326.6V345.8M286.5 322.8V343.6M287.0 324.0V351.2M287.5 332.4V344.4M288.0 325.2V347.0M288.5 323.6V341.6M289.0 326.3V345.1M289.5 323.1V347.5M290.0 321.6V347.5M290.5 323.6V348.0M291.0 326.9V350.9M291.5 326.5V345.4M292.0 326.9V358.7M292.5 325.5V356.5M293.0 324.0V348.1M293.5 328.1V350.0M294.0 321.2V343.6M294.5 326.8V340.8M295.0 326.7V346.7M295.5 322.4V346.5M296.0 330.2V405.3M296.5 373.0V404.0M297.0 379.9V397.3M297.5 371.4V403.5M298.0 376.2V401.8M298.5 378.2V402.0M299.0 375.8V397.0M299.5 375.2V400.7M300.0 373.4V405.8M300.5 371.7V394.7M301.0 377.6V398.6M301.5 373.0V395.6M302.0 381.8V402.6M302.5 369.0V402.2M303.0 371.5V401.4M303.5 371.5V401.6M304.0 378.2V408.2M304.5 373.4V409.2M305.0 375.3V396.1M305.5 377.4V399.2M306.0 381.2V403.8M306.5 376.0V408.0M307.0 380.2V401.4M307.5 373.0V400.0M308.0 373.2V403.7M308.5 373.4V400.8M309.0 377.0V400.0M309.5 380.2V401.8M310.0 378.1V393.3M310.5 371.1V395.2M311.0 383.1V406.9M311.5 373.2V399.9M312.0 381.7V399.7M312.5 382.3V401.0M313.0 369.6V404.5M313.5 378.3V399.1M314.0 321.7V383.0M314.5 328.1V353.1M315.0 326.8V349.0M315.5 324.4V349.2M316.0 323.1V351.4M316.5 326.1V349.6M317.0 322.1V350.9M317.5 324.9V352.8M318.0 323.9V349.9M318.5 349.9V404.5M319.0 381.1V395.0M319.5 381.8V402.3M320.0 379.1V402.3M320.5 375.3V400.7M321.0 376.3V398.5M321.5 367.1V399.6M322.0 378.7V399.6M322.5 378.3V401.3M323.0 367.4V403.6M323.5 370.5V399.7M324.0 378.3V402.1M324.5 381.9V399.5M325.0 323.0V394.5M325.5 320.9V348.1M326.0 319.1V345.7M326.5 321.7V351.8M327.0 324.8V345.8M327.5 324.2V346.8M328.0 337.6V400.4M328.5 370.0V399.9M329.0 370.0V407.3M329.5 375.4V394.1M330.0 374.2V402.0M330.5 375.8V401.4M331.0 379.4V402.3M331.5 370.5V396.2M332.0 379.4V403.0M332.5 376.3V401.4M333.0 374.3V401.0M333.5 377.7V403.3M334.0 377.5V400.0M334.5 375.8V402.9M335.0 375.4V399.1M335.5 371.3V405.1M336.0 375.0V396.3M336.5 379.3V396.3M337.0 378.1V396.6M337.5 375.6V399.1M338.0 323.7V375.6M338.5 322.6V347.9M339.0 328.3V348.0M339.5 319.2V348.5M340.0 321.7V354.4M340.5 329.2V354.4M341.0 317.5V352.8M341.5 324.0V347.6M342.0 323.9V348.8M342.5 324.5V352.7M343.0 323.2V342.4M343.5 322.9V349.9M344.0 322.9V346.4M344.5 327.7V351.9M345.0 334.5V400.6M345.5 375.4V396.6M346.0 375.4V403.2M346.5 377.6V396.4M347.0 372.9V399.5M347.5 378.9V409.3M348.0 380.1V404.9M348.5 380.0V404.6"/><rect x="63" y="307.2" width="285.4" height="107" fill="none" stroke="#000" stroke-width="1.7"/><text x="54.2" y="404.6" text-anchor="end" style="font-family:'Liberation Serif',serif;font-size:17.5px" fill="#111" textLength="23.6" lengthAdjust="spacingAndGlyphs" stroke="#fff" stroke-width="0.18">1.2</text><text x="54.2" y="371.9" text-anchor="end" style="font-family:'Liberation Serif',serif;font-size:17.5px" fill="#111" textLength="23.6" lengthAdjust="spacingAndGlyphs" stroke="#fff" stroke-width="0.18">1.4</text><text x="54.2" y="339.1" text-anchor="end" style="font-family:'Liberation Serif',serif;font-size:17.5px" fill="#111" textLength="23.6" lengthAdjust="spacingAndGlyphs" stroke="#fff" stroke-width="0.18">1.6</text><text x="62.6" y="435.8" text-anchor="middle" style="font-family:'Liberation Serif',serif;font-size:17.5px" fill="#111" stroke="#fff" stroke-width="0.18">0</text><text x="142.1" y="435.8" text-anchor="middle" style="font-family:'Liberation Serif',serif;font-size:17.5px" fill="#111" stroke="#fff" stroke-width="0.18">5</text><text x="221.6" y="435.8" text-anchor="middle" style="font-family:'Liberation Serif',serif;font-size:17.5px" fill="#111" stroke="#fff" stroke-width="0.18">10</text><text x="301.1" y="435.8" text-anchor="middle" style="font-family:'Liberation Serif',serif;font-size:17.5px" fill="#111" stroke="#fff" stroke-width="0.18">15</text><path d="M57.5 398.5H63M57.5 365.75H63M57.5 333H63M62.6 414.2V419.8M142.1 414.2V419.8M221.6 414.2V419.8M301.1 414.2V419.8" stroke="#000" stroke-width="1.7"/><text x="163.6" y="461.6" textLength="83.6" lengthAdjust="spacingAndGlyphs" style="font-family:'Liberation Serif',serif;font-size:24px" fill="#111" stroke="#fff" stroke-width="0.3">Time (s)</text><text transform="translate(20.2 394.2) rotate(-90)" textLength="70.9" lengthAdjust="spacingAndGlyphs" style="font-family:'Liberation Serif',serif;font-size:24px" fill="#111" stroke="#fff" stroke-width="0.3"><tspan font-style="italic">V</tspan> (μV)</text><text x="-0.5" y="294.5" style="font-family:'Liberation Sans',sans-serif;font-size:22px;font-weight:bold" fill="#111">c</text><clipPath id="cdp"><rect x="442" y="298.8" width="192.1" height="123.6"/></clipPath><polyline clip-path="url(#cdp)" points="463.6,298.7 465.1,300.8 466.5,306.2 468.0,311.3 469.4,316.2 470.9,320.9 472.3,325.4 473.8,329.1 475.2,332.1 476.7,335.1 478.2,337.9 479.6,340.7 481.1,343.3 482.5,345.9 484.0,348.4 485.4,350.7 486.9,353.0 488.3,355.2 489.8,357.2 491.2,359.1 492.7,360.9 494.2,362.6 495.6,364.2 497.1,365.9 498.5,367.4 500.0,368.9 501.4,370.9 502.9,372.7 504.3,374.5 505.8,376.2 507.2,377.8 508.7,379.3 510.2,380.8 511.6,382.2 513.1,383.6 514.5,384.9 516.0,386.1 517.4,387.2 518.9,388.3 520.3,389.3 521.8,390.3 523.3,391.3 524.7,392.2 526.2,393.1 527.6,393.9 529.1,394.7 530.5,395.5 532.0,396.3 533.4,397.0 534.9,397.7 536.3,398.3 537.8,399.0 539.3,399.6 540.7,400.2 542.2,400.8 543.6,401.3 545.1,401.8 546.5,402.3 548.0,402.8 549.4,403.3 550.9,403.7 552.3,404.1 553.8,404.6 555.3,405.0 556.7,405.3 558.2,405.7 559.6,406.0 561.1,406.3 562.5,406.5 564.0,406.7 565.4,406.9 566.9,407.1 568.4,407.3 569.8,407.5 571.3,407.7 572.7,407.9 574.2,408.0 575.6,408.2 577.1,408.4 578.5,408.5 580.0,408.7 581.4,408.8 582.9,409.0 584.4,409.1 585.8,409.3 587.3,409.4 588.7,409.6 590.2,409.7 591.6,409.8 593.1,409.9 594.5,410.1 596.0,410.2 597.4,410.3 598.9,410.4 600.4,410.5 601.8,410.7 603.3,410.8 604.7,410.9 606.2,411.0 607.6,411.1 609.1,411.2 610.5,411.3 612.0,411.4 613.5,411.5 614.9,411.6 616.4,411.7 617.8,411.8 619.3,411.9 620.7,412.0 622.2,412.1 623.6,412.2 625.1,412.2 626.5,412.3 628.0,412.4 629.5,412.4 630.9,412.5 632.4,412.6 633.8,412.6 635.3,412.7 636.7,412.7" fill="none" stroke="#111" stroke-width="1.2" stroke-dasharray="4 2.6"/><polyline points="469.1,364.9 514.9,347.3 560.7,357.2 606.5,357.2" fill="none" stroke="#e5921f" stroke-width="1.8"/><rect x="466.0" y="361.8" width="6.2" height="6.2" fill="#e5921f"/><rect x="511.8" y="344.2" width="6.2" height="6.2" fill="#e5921f"/><rect x="557.6" y="354.1" width="6.2" height="6.2" fill="#e5921f"/><rect x="603.4" y="354.1" width="6.2" height="6.2" fill="#e5921f"/><path d="M611.8 357H626" stroke="#e5921f" stroke-width="2"/><path d="M624 353.5L632.5 357L624 360.5z" fill="#e5921f"/><circle cx="469.1" cy="328.1" r="3.2" fill="#238b23"/><circle cx="514.9" cy="381.4" r="3.2" fill="#238b23"/><circle cx="560.7" cy="405.3" r="3.2" fill="#238b23"/><circle cx="606.5" cy="411.0" r="3.2" fill="#238b23"/><path d="M452 328.1H464.5" stroke="#238b23" stroke-width="2"/><path d="M453.5 324.6L444.5 328.1L453.5 331.6z" fill="#238b23"/><rect x="442" y="298.8" width="192.1" height="123.6" fill="none" stroke="#000" stroke-width="1.7"/><text x="434.3" y="420.7" text-anchor="end" style="font-family:'Liberation Serif',serif;font-size:17.5px" fill="#2f9a2f" textLength="19.8" lengthAdjust="spacingAndGlyphs" stroke="#fff" stroke-width="0.18">0.0</text><text x="434.3" y="382.1" text-anchor="end" style="font-family:'Liberation Serif',serif;font-size:17.5px" fill="#2f9a2f" textLength="19.8" lengthAdjust="spacingAndGlyphs" stroke="#fff" stroke-width="0.18">0.5</text><text x="434.3" y="343.4" text-anchor="end" style="font-family:'Liberation Serif',serif;font-size:17.5px" fill="#2f9a2f" textLength="19.8" lengthAdjust="spacingAndGlyphs" stroke="#fff" stroke-width="0.18">1.0</text><text x="434.3" y="304.8" text-anchor="end" style="font-family:'Liberation Serif',serif;font-size:17.5px" fill="#2f9a2f" textLength="19.8" lengthAdjust="spacingAndGlyphs" stroke="#fff" stroke-width="0.18">1.5</text><text x="641.2" y="397.3" style="font-family:'Liberation Serif',serif;font-size:17.5px" fill="#e5921f" textLength="20.0" lengthAdjust="spacingAndGlyphs" stroke="#fff" stroke-width="0.18">2.5</text><text x="641.2" y="335.4" style="font-family:'Liberation Serif',serif;font-size:17.5px" fill="#e5921f" textLength="20.0" lengthAdjust="spacingAndGlyphs" stroke="#fff" stroke-width="0.18">2.6</text><text x="469.1" y="442.3" text-anchor="middle" style="font-family:'Liberation Serif',serif;font-size:17.5px" fill="#111" textLength="22.5" lengthAdjust="spacingAndGlyphs" stroke="#fff" stroke-width="0.18">100</text><text x="514.9" y="442.3" text-anchor="middle" style="font-family:'Liberation Serif',serif;font-size:17.5px" fill="#111" textLength="22.5" lengthAdjust="spacingAndGlyphs" stroke="#fff" stroke-width="0.18">105</text><text x="560.7" y="442.3" text-anchor="middle" style="font-family:'Liberation Serif',serif;font-size:17.5px" fill="#111" textLength="22.5" lengthAdjust="spacingAndGlyphs" stroke="#fff" stroke-width="0.18">110</text><text x="606.5" y="442.3" text-anchor="middle" style="font-family:'Liberation Serif',serif;font-size:17.5px" fill="#111" textLength="22.5" lengthAdjust="spacingAndGlyphs" stroke="#fff" stroke-width="0.18">115</text><path d="M436.5 414.6H442M436.5 375.965H442M436.5 337.33H442M436.5 298.695H442M634.1 391.2H639.6M634.1 329.3H639.6M469.1 422.4V428M514.9 422.4V428M560.7 422.4V428M606.5 422.4V428" stroke="#000" stroke-width="1.7"/><text x="502.8" y="464.9" textLength="67.1" lengthAdjust="spacingAndGlyphs" style="font-family:'Liberation Serif',serif;font-size:24px" fill="#111" stroke="#fff" stroke-width="0.3"><tspan font-style="italic">T</tspan> (mK)</text><text transform="translate(406.0 379.5) rotate(-90)" textLength="36.0" lengthAdjust="spacingAndGlyphs" style="font-family:'Liberation Serif',serif;font-size:24px" fill="#2f9a2f" stroke="#fff" stroke-width="0.3"><tspan font-style="italic">t</tspan> (s)</text><text transform="translate(681 390.8) rotate(-90)" textLength="58.5" lengthAdjust="spacingAndGlyphs" style="font-family:'Liberation Serif',serif;font-size:24px" fill="#e5921f"><tspan font-style="italic">U</tspan><tspan font-style="italic" font-size="16px" dy="4">e</tspan><tspan dy="-4"> (K)</tspan></text><text x="399.3" y="293.5" style="font-family:'Liberation Sans',sans-serif;font-size:22px;font-weight:bold" fill="#111">d</text><path d="M427 430.6H444.8" stroke="#555" stroke-width="2.2"/><path d="M428 426.8L418 430.6L428 434.4z" fill="#555"/><path d="M631.1 431H649" stroke="#555" stroke-width="2.2"/><path d="M648 427.2L658 431L648 434.8z" fill="#555"/><text x="408.6" y="448.8" textLength="44.1" lengthAdjust="spacingAndGlyphs" style="font-family:'Liberation Sans',sans-serif;font-size:13px" fill="#444">quantum</text><text x="408.2" y="461.3" textLength="45.2" lengthAdjust="spacingAndGlyphs" style="font-family:'Liberation Sans',sans-serif;font-size:13px" fill="#444">tunneling</text><text x="629.5" y="448.2" textLength="29.7" lengthAdjust="spacingAndGlyphs" style="font-family:'Liberation Sans',sans-serif;font-size:13px" fill="#444">signal</text><text x="625.0" y="460.2" textLength="39.2" lengthAdjust="spacingAndGlyphs" style="font-family:'Liberation Sans',sans-serif;font-size:13px" fill="#444">to noise</text></svg></body></html>
